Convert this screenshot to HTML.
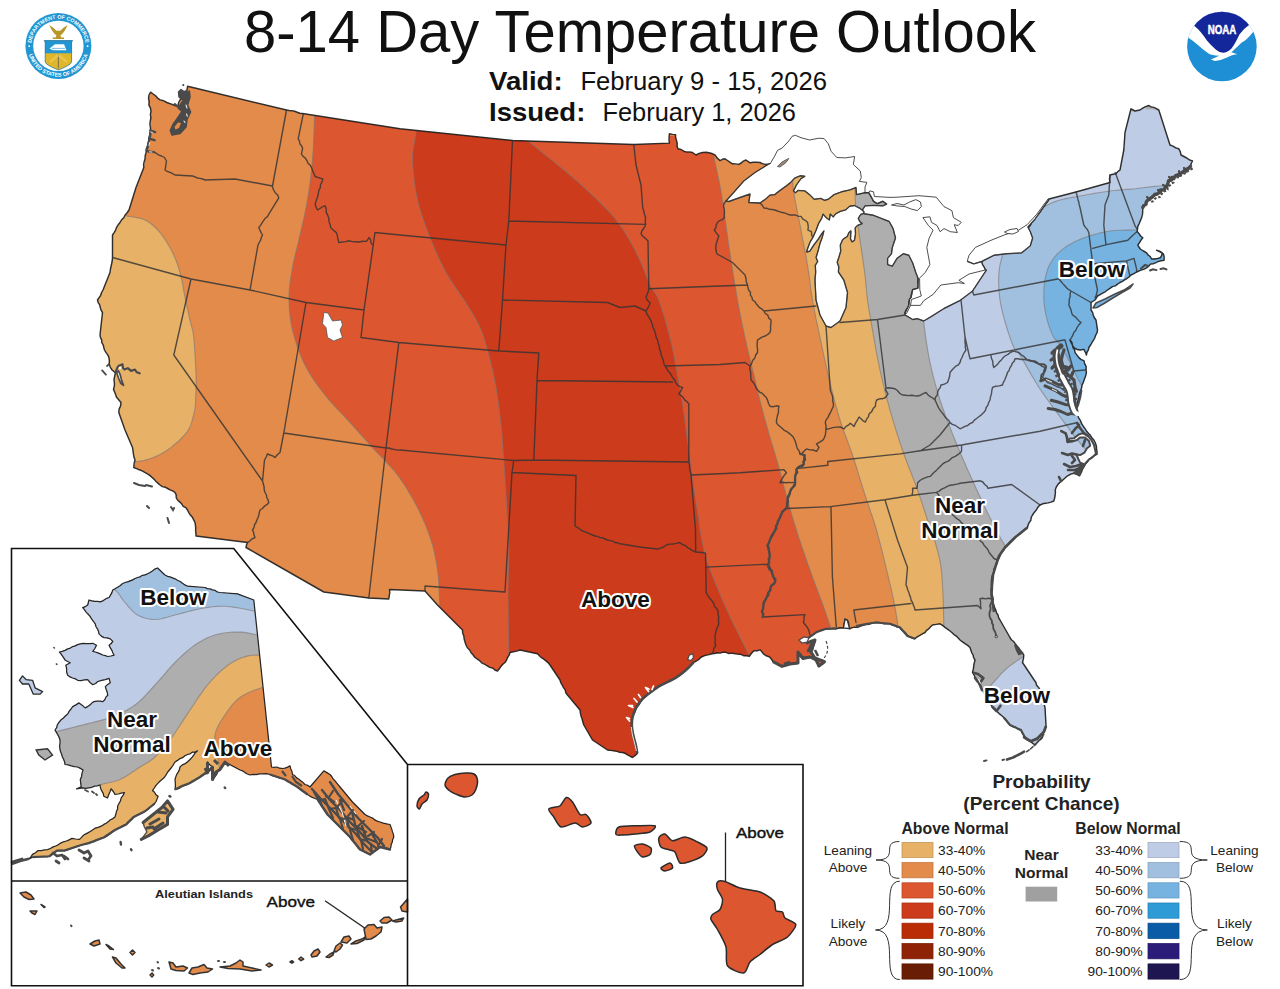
<!DOCTYPE html><html><head><meta charset="utf-8"><title>8-14 Day Temperature Outlook</title>
<style>html,body{margin:0;padding:0;background:#fff}svg{display:block}text{font-family:"Liberation Sans",sans-serif}.lab{font-weight:bold;font-size:22.5px;fill:#111;stroke:#fff;stroke-width:4px;stroke-linejoin:round;paint-order:stroke fill}.st{fill:none;stroke:#333333;stroke-opacity:0.82;stroke-width:1.4;stroke-linejoin:round;stroke-linecap:round}.ct{fill:none;stroke:rgba(125,120,118,0.62);stroke-width:1.15}.lk{fill:#fff;stroke:#3a3a3a;stroke-width:0.9;stroke-linejoin:round}.lg{font-size:13.6px;fill:#222}</style></head><body>
<svg width="1280" height="989" viewBox="0 0 1280 989">
<rect width="1280" height="989" fill="#fff"/>
<defs>
<clipPath id="us"><path d="M150.6,92.2 L160.1,99.9 L166.9,102.5 L174.7,105.5 L178,106 L180,100 L184,95 L187,90 L187.6,86.2 L286.5,110 L302.5,113.5 L400,128.8 L512.5,140.5 L633.8,144.5 L669.4,143.1 L669.4,133.8 L675.6,134.8 L678,148.8 L683.8,151.2 L692.5,152.5 L696,155 L702.5,152.5 L710,153 L715,155 L720,160.6 L725,158.8 L732.5,163.8 L738.8,164.4 L746,160 L750,162.8 L760,162.5 L765,164.4 L768.8,164 L800,160 L850,172 L860,188 L865,192.7 L868.8,192.7 L871.1,196.5 L873.5,201.2 L877.2,203.6 L882.9,201.2 L886.7,204 L890,208 L900,215 L915,250 L918.2,278.7 L918,288.2 L912.7,289.7 L911.1,297.6 L909.6,299.1 L908.8,305.4 L904.9,313.2 L920,312 L940,298 L955,290 L970,280 L985.5,270.1 L981.7,261.5 L985,252 L1005,245 L1020,240 L1029,227 L1035.5,217 L1042.5,208.2 L1049,199 L1076,192 L1110,182.5 L1110,175 L1116,173.8 L1120,170 L1123.8,150 L1125,132.5 L1131,108.8 L1135,111 L1140,110 L1148.8,105.5 L1158.8,110 L1170,145 L1178.8,148.8 L1181,155 L1192.5,161 L1190.5,166.3 L1184,171 L1177.9,175 L1171.7,177.5 L1168,183 L1165.4,187.6 L1159.1,192.6 L1153,196.5 L1147.8,200.1 L1142.8,207.6 L1141.6,217.7 L1137.8,226.4 L1137.2,231.5 L1142.8,237.7 L1137.8,245.2 L1140.3,249 L1146.6,252.8 L1151.6,259 L1160.4,257.8 L1162.3,252.8 L1156.6,250.3 L1163.5,254 L1164.1,260.3 L1157.9,261.6 L1150.3,264.1 L1146.6,267.8 L1140.3,270.3 L1136.6,272 L1131,275 L1120,282.5 L1107.5,290 L1097.5,296 L1095,300 L1091,302.5 L1091,310 L1096,320 L1097.5,330 L1095.8,335 L1092.7,341.3 L1088.9,347.5 L1086.4,355 L1085.8,353.2 L1083.9,349.4 L1080.2,350 L1074.5,348.2 L1070,340 L1075.1,352.6 L1078.9,357.6 L1083.9,360.7 L1086.1,366.3 L1086.4,372.6 L1084.5,378.9 L1082,385.2 L1080.2,391.4 L1078.9,397 L1076.4,408.2 L1076.4,412.9 L1080.2,420.1 L1085.2,428.9 L1090.2,435.1 L1093.9,440 L1096.4,446.3 L1097.1,454.2 L1093.3,456.4 L1088.9,459.5 L1085.2,463.9 L1082.6,468.9 L1079.5,475.8 L1073.9,473.3 L1067.6,475.8 L1062,480.8 L1056.3,487 L1053.8,501 L1040,505 L1032.5,515 L1027.5,527.5 L1015,537.5 L1005,547.5 L997.5,560 L992.5,575 L991,590 L993.8,605 L1000,620 L1010,637.5 L1020,650 L1023.8,655 L1022.5,662.5 L1032.5,677.5 L1040,690 L1045,707.5 L1046,725 L1042.5,737.5 L1035,745 L1025,737.5 L1021,730 L1010,725 L1003.8,717.5 L992.5,707.5 L981,687.5 L972.5,672.5 L973.8,665 L975,660 L970,647.5 L960,640 L950,631 L940,623.8 L932.5,625 L925,632.5 L915,638.8 L907.5,636 L900,627.5 L890,623.8 L875,622.5 L860,626.4 L849.7,628.7 L847.3,620.1 L845,619.3 L843.4,628 L836.3,628.7 L826.1,628.7 L816.7,631.9 L810.5,636.6 L805,639.7 L807.3,642.9 L815.2,639.7 L810.5,652.3 L815.2,658.5 L824.6,661.7 L818.3,666.4 L816.7,660.1 L810.5,657 L802.6,658.5 L797.9,652.3 L797.9,663.2 L790.1,664 L782.3,666.4 L772.9,661.7 L769.7,657 L763.4,653.8 L760.3,649.9 L754,650.7 L749.3,656.2 L735.2,653.8 L722.7,652.3 L711.7,653.8 L704.1,655.8 L693.6,662.3 L685.7,670.2 L675.2,678.1 L659.4,686 L650.2,692.6 L642.3,699.1 L635.8,708.3 L632.5,717.5 L631.8,725.4 L633.1,734.6 L635.8,745.1 L637.3,753.5 L632.5,757.5 L622.5,752.5 L607.5,750 L592.5,740 L583.8,725 L580,710 L567.5,695 L560,680 L550,665 L537.5,653.8 L520,650 L510,652.5 L505,662.5 L497.5,671 L487.5,666 L475,657.5 L466,645 L462.5,630 L450,617.5 L437.5,605 L425,591 L389.5,589.5 L388.8,599 L368.8,598 L323.8,592 L246,547.5 L247.5,542.5 L196,536 L195,522.5 L187.5,510 L177.5,500 L175,492.5 L160,485 L147.5,473.8 L133.8,467.5 L135,460 L132.5,447.5 L125,430 L118.8,412.5 L121,402.5 L116.4,397 L113.5,389.4 L114.5,384.2 L114,379.5 L115.4,372.8 L112.1,370 L109.2,363.8 L108.8,357.1 L104.5,350 L100,335 L102.5,312.5 L97.5,300 L103,290 L110,272.5 L112.5,257.5 L112.5,235 L120,222.5 L129,210 L136,187.5 L143.8,167.5 L145,159.2 L146.3,148.9 L148,143.7 L150.6,130 L150.2,121.4 L151,111.1 L148.9,105.1 L148.5,98.2Z"/><path d=""/></clipPath>
<clipPath id="ak"><path d="M157.5,568 L165,575 L175,578.8 L187.5,586.2 L205,587.5 L220,592.5 L237.5,593.8 L253.8,600 L271.5,767 L285,768.2 L290,765.8 L292.5,774.5 L305,784.5 L310,787 L323.8,770.8 L330,774.5 L340,787 L352.5,802 L365,814.5 L380,822 L390,824.5 L393.8,837 L390,849.5 L380,847 L370,854.5 L360,849.5 L350,837 L340,827 L327.5,814.5 L317.5,799.5 L307.5,794.5 L297.5,787 L285,779.5 L270,774.5 L262.5,773.8 L250,775 L240,770 L225,762 L220,769.5 L212.5,779.5 L212.5,767 L207.5,762 L207.5,772 L200,777 L187.5,784.5 L175,789.5 L175,779.5 L180,767 L190,759.5 L197.5,750.8 L187.5,754.5 L175,762 L169.4,770 L165.6,775.6 L158.1,783.1 L152.5,790.6 L158.1,796.2 L154.4,803.8 L145,811.2 L133.8,816.9 L126.2,824.4 L115,830 L103.8,837.5 L88.8,843.1 L81.2,845 L64.4,850.6 L56.9,850.6 L49.4,856.2 L32.5,857.2 L29,859 L32.5,854.4 L38.1,850.6 L47.5,849.7 L53.1,846.9 L60.6,843.1 L71.9,838.4 L79.4,839.4 L83.1,835.6 L92.5,830 L103.8,824.4 L115,816.9 L118.8,803.8 L124.4,792.5 L115,794.4 L111.2,788.8 L107.5,798 L103.8,796.2 L100,785 L88.8,787.8 L76.6,788.8 L81.2,786.9 L80.3,779.4 L83.1,770 L77.5,767 L65,764.5 L60,749.5 L60,740 L55,730 L58.8,722.5 L67.7,714 L72.7,706.6 L79,702.9 L85.2,707.9 L94,701.6 L102.8,701.6 L107.8,695.3 L105.3,686.6 L110.3,682.8 L109.1,678.4 L105.3,679.7 L97.8,681.5 L92.8,684.7 L87.7,679.7 L77.7,680.3 L67.7,675.3 L65.8,665.2 L70.2,662.7 L65.2,660.2 L59.5,652.1 L67.7,648.9 L80.2,643.9 L92.8,643.3 L96.5,645.2 L92.8,651.4 L100.3,653.9 L107.8,656.5 L114.1,655.2 L112.8,652.7 L109.1,645.2 L112.8,641.4 L110.3,638.9 L104,637.6 L99,633.9 L95.3,623.9 L87.7,613.8 L82.7,607.6 L87.7,605 L89,600 L100.3,601.9 L109.1,597.5 L112.8,590 L115,588.8 L125,582.5 L137.5,577.5 L150,572.5Z"/><path d="M143.1,822.5 L152.5,815 L161.9,807.5 L167.5,800.9 L173.1,809.4 L167.5,816.9 L167.5,824.4 L158.1,830 L148.8,835.6 L141.2,839.4 L146.9,831.9 L144.1,826.2Z"/></clipPath>
<clipPath id="akbox"><path d="M11.5,548.5 H233.75 L407.5,764.5 V881 H11.5Z"/></clipPath>
</defs>
<g clip-path="url(#us)">
<rect x="80" y="60" width="1140" height="720" fill="#E38B4B"/>
<path d="M126,216 L128.1,216.3 L131.1,216.7 L134.6,217.2 L138.3,217.9 L141.8,218.8 L145,220 L147.8,221.5 L150.4,223.3 L152.9,225.2 L155.3,227.5 L157.7,229.9 L160,232.5 L162.3,235.4 L164.5,238.6 L166.7,242 L168.8,245.6 L170.7,249.1 L172.5,252.5 L174.1,255.8 L175.5,259 L176.7,262.2 L177.9,265.5 L179,268.9 L180,272.5 L181,276.3 L181.9,280.4 L182.7,284.6 L183.4,288.8 L184.2,293 L185,297 L185.8,301 L186.7,305 L187.6,308.9 L188.4,312.8 L189.2,316.5 L190,320 L190.7,323 L191.4,325.5 L192,327.8 L192.7,330.4 L193.2,333.5 L193.8,337.5 L194.2,342.8 L194.7,349.2 L195.1,356.1 L195.5,363.1 L195.8,369.5 L196,375 L196.1,379.4 L196.2,383.1 L196.1,386.3 L196.1,389.2 L195.9,392 L195.8,395 L195.7,398 L195.6,400.8 L195.5,403.5 L195.3,406.2 L194.9,409 L194.3,412 L193.6,415.2 L192.7,418.5 L191.8,421.9 L190.6,425.4 L189,428.7 L187,432 L184.4,435.2 L181.3,438.5 L177.9,441.7 L174.3,444.8 L170.8,447.6 L167.5,450 L164.4,452.1 L161.4,453.8 L158.5,455.3 L155.6,456.6 L152.7,457.7 L150,458.8 L147.2,459.6 L144.3,460.4 L141.4,460.9 L138.8,461.4 L136.6,461.7 L135,462 L60,462 L60,216Z" fill="#E7B168"/>
<path d="M314.5,100 L314.5,101.4 L314.6,103.1 L314.6,105.2 L314.6,108 L314.6,111.5 L314.5,116 L314.3,121.8 L314.1,128.7 L313.8,136.5 L313.5,144.6 L313,152.6 L312.5,160 L311.9,167 L311.1,173.8 L310.3,180.6 L309.5,187.2 L308.5,193.7 L307.5,200 L306.4,206.2 L305.2,212.1 L303.9,218 L302.6,223.7 L301.3,229.4 L300,235 L298.7,240.6 L297.4,246.1 L296,251.6 L294.7,256.9 L293.5,262.3 L292.5,267.5 L291.6,272.6 L290.8,277.6 L290.1,282.5 L289.5,287.4 L289.1,292.4 L289,297.5 L289.1,302.7 L289.3,308.1 L289.8,313.4 L290.4,318.9 L291.3,324.4 L292.5,330 L294,335.7 L295.7,341.7 L297.7,347.7 L299.9,353.6 L302.4,359.4 L305,365 L307.8,370.3 L310.9,375.5 L314.2,380.5 L317.7,385.4 L321.3,390.2 L325,395 L328.9,399.8 L333.1,404.4 L337.3,409.1 L341.7,413.6 L345.9,418.1 L350,422.5 L353.9,426.8 L357.6,430.9 L361.2,435 L364.9,439.1 L368.6,443.2 L372.5,447.5 L376.6,451.9 L380.8,456.3 L385.2,460.8 L389.4,465.4 L393.6,470.1 L397.5,475 L401.2,480.1 L404.8,485.5 L408.2,490.9 L411.5,496.5 L414.6,502 L417.5,507.5 L420.2,512.9 L422.7,518.4 L425.1,523.9 L427.3,529.4 L429.2,534.7 L431,540 L432.5,545.1 L433.9,550.2 L435,555.2 L435.9,560.1 L436.8,565 L437.5,570 L438.1,574.9 L438.6,579.6 L438.9,584.4 L439.1,589.3 L439.3,594.4 L439.5,600 L439.7,606.6 L439.8,614.1 L439.9,621.9 L439.9,629.3 L440,635.5 L440,640 L440,800 L835,800 L835,640 L834.5,638.5 L833.8,636.5 L832.9,634.1 L832,631.4 L831,628.5 L830,625.6 L829,622.6 L827.9,619.4 L826.8,616.1 L825.6,612.6 L824.3,608.9 L823,605.2 L821.6,601.3 L820,597.3 L818.5,593.1 L816.8,588.8 L815.2,584.5 L813.6,580.2 L812,575.8 L810.4,571.3 L808.8,566.8 L807.2,562.2 L805.7,557.8 L804.2,553.5 L802.8,549.5 L801.5,545.7 L800.3,542 L799,538.2 L797.7,534.3 L796.4,530 L795,525.5 L793.6,520.8 L792.1,515.9 L790.6,510.8 L789.1,505.5 L787.5,500 L785.9,494.2 L784.3,488.2 L782.7,482 L781.1,475.6 L779.3,469.1 L777.5,462.5 L775.5,455.7 L773.4,448.6 L771.2,441.4 L769.1,434.2 L767,427 L765,420 L763.2,413.2 L761.5,406.6 L759.8,400 L758.2,393.4 L756.6,386.8 L755,380 L753.3,373 L751.6,365.8 L749.8,358.6 L748.1,351.4 L746.5,344.3 L745,337.5 L743.6,331.1 L742.3,325 L741.1,319 L739.9,313 L738.7,306.7 L737.5,300 L736.2,292.4 L734.8,284.1 L733.4,275.6 L732.1,267.3 L731,259.8 L730,253.6 L729.3,249.1 L728.8,245.9 L728.5,243.5 L728.2,241.4 L727.9,239.1 L727.5,236 L726.9,232.1 L726.3,227.9 L725.7,223.4 L725,218.8 L724.4,214.3 L723.8,210 L723.2,206 L722.6,202.1 L722,198.2 L721.4,194.4 L720.8,190.3 L720,186 L719.1,181.2 L717.9,175.9 L716.8,170.5 L715.6,165.2 L714.6,160.3 L713.8,156 L713.2,152.3 L712.8,149 L712.5,146.1 L712.3,143.6 L712.1,141.6 L712,140Z" fill="#DC5630"/>
<path d="M417,115 L416.9,116.8 L416.8,119.2 L416.7,122 L416.6,125.3 L416.3,128.8 L416,132.5 L415.5,136.4 L414.7,140.5 L413.9,144.8 L413.1,149.5 L412.6,154.6 L412.5,160 L412.8,166 L413.3,172.5 L414,179.4 L415,186.4 L416.1,193.3 L417.5,200 L419.1,206.4 L421,212.8 L423.1,219.1 L425.3,225.3 L427.6,231.4 L430,237.5 L432.4,243.5 L434.9,249.5 L437.5,255.4 L440.2,261.3 L443.1,267 L446,272.5 L449.2,277.9 L452.6,283.2 L456.1,288.4 L459.6,293.4 L463,298.3 L466,303 L468.7,307.4 L471.3,311.5 L473.7,315.4 L475.9,319.3 L478,323.3 L480,327.5 L481.8,331.9 L483.4,336.3 L484.8,340.8 L486.1,345.4 L487.4,350.1 L488.8,355 L490.1,360.1 L491.4,365.3 L492.6,370.6 L493.8,376.1 L494.9,381.7 L496,387.5 L497,393.5 L497.9,399.7 L498.8,406.1 L499.6,412.5 L500.3,418.8 L501,425 L501.6,431 L502.1,436.9 L502.5,442.7 L503,448.4 L503.3,454.2 L503.8,460 L504.1,465.6 L504.5,471 L504.9,476.4 L505.2,482.1 L505.6,488.2 L506,495 L506.5,502.8 L507,511.4 L507.6,520.5 L508.1,529.7 L508.5,538.7 L508.8,547 L508.8,554.5 L508.7,561.4 L508.5,568 L508.3,574.7 L508.1,582 L508,590 L508,599.1 L508.2,609.1 L508.3,619.6 L508.5,630.1 L508.6,640.4 L508.8,650 L508.8,659.5 L508.9,669.3 L508.9,678.8 L509,687.4 L509,694.7 L509,700 L509,800 L756,800 L756,668 L755.3,666.7 L754.3,665 L753.2,662.9 L751.9,660.5 L750.5,657.8 L749,655 L747.4,651.9 L745.7,648.4 L743.8,644.8 L741.9,640.9 L739.9,636.9 L738,633 L736,629 L734,624.9 L732,620.8 L730,616.5 L728,612.3 L726,608 L724.1,603.7 L722.2,599.3 L720.3,594.9 L718.5,590.6 L716.7,586.2 L715,582 L713.3,577.9 L711.7,574 L710.2,570.1 L708.7,566.2 L707.3,562.2 L706,558 L704.8,553.4 L703.6,548.3 L702.5,543.1 L701.5,538.1 L700.7,533.7 L700,530 L699.6,527.6 L699.4,526.2 L699.3,525.3 L699.3,524.3 L699.1,522.8 L698.8,520 L698.1,515.9 L697.4,511 L696.5,505.5 L695.6,499.5 L694.6,493.5 L693.8,487.5 L692.9,481.5 L692.1,475.4 L691.2,469.1 L690.4,462.7 L689.6,456.3 L688.8,450 L687.9,443.8 L687.1,437.5 L686.3,431.2 L685.5,425 L684.7,418.8 L683.8,412.5 L682.8,406.2 L681.8,400 L680.8,393.8 L679.7,387.5 L678.6,381.3 L677.5,375 L676.4,368.8 L675.2,362.5 L674.1,356.2 L672.8,350 L671.5,343.8 L670,337.5 L668.3,331 L666.4,324.2 L664.5,317.3 L662.5,310.8 L660.5,304.9 L658.8,300 L657.2,296.4 L655.8,293.9 L654.5,292 L653.1,290.3 L651.6,288.1 L650,285 L648.2,280.9 L646.3,276.1 L644.3,270.9 L642.2,265.6 L639.9,260.2 L637.5,255 L634.9,249.9 L632.1,244.7 L629.2,239.5 L626.2,234.4 L623.1,229.6 L620,225 L616.9,220.9 L613.9,217.1 L610.8,213.6 L607.5,210.1 L603.9,206.5 L600,202.5 L595.7,198.3 L591.1,193.9 L586.2,189.4 L581.1,184.7 L575.7,179.9 L570,175 L563.6,169.7 L556.5,163.9 L549.1,157.9 L541.9,152.2 L535.3,146.9 L530,142.5 L525.9,138.9 L522.6,135.8 L520,133.2 L518,131.1 L516.3,129.4 L515,128Z" fill="#CB3B1C"/>
<path d="M792.5,175 L792.6,176.7 L792.6,179 L792.7,181.7 L792.9,184.9 L793.2,188.5 L793.8,192.5 L794.5,197 L795.4,201.9 L796.5,207.3 L797.6,213.1 L798.8,219 L800,225 L801.2,231.3 L802.5,238 L803.8,244.8 L805.1,251.8 L806.4,258.5 L807.5,265 L808.4,271.1 L809.3,276.9 L810,282.7 L810.7,288.3 L811.6,294.1 L812.5,300 L813.6,306 L814.7,312 L815.9,318.1 L817.2,324.4 L818.6,330.8 L820,337.5 L821.5,344.7 L823.1,352.2 L824.8,360 L826.6,367.8 L828.3,375.3 L830,382.5 L831.6,389.2 L833.2,395.6 L834.8,401.9 L836.5,408 L838.2,414 L840,420 L841.9,425.9 L844,431.7 L846.1,437.3 L848.2,443.1 L850.4,448.9 L852.5,455 L854.6,461.5 L856.8,468.3 L858.9,475.3 L861,482.2 L863.1,488.9 L865,495 L866.9,500.7 L868.7,506 L870.4,511.1 L872.1,516 L873.6,520.6 L875,525 L876.2,529.1 L877.3,533 L878.3,536.6 L879.2,540.1 L880.1,543.5 L881,547 L881.9,550.4 L882.7,553.7 L883.5,556.9 L884.3,560.2 L885.1,563.7 L886,567.5 L887,571.7 L888.1,576.1 L889.2,580.8 L890.4,585.6 L891.5,590.3 L892.5,595 L893.5,599.6 L894.4,604.4 L895.3,609.1 L896.1,613.7 L896.9,618.2 L897.5,622.5 L898,626.8 L898.3,631.2 L898.6,635.5 L898.7,639.4 L898.9,642.6 L899,645 L899,800 L1300,800 L1300,60 L792,60Z" fill="#E7B168"/>
<path d="M855,175 L855,176.4 L855,178.3 L854.9,180.5 L854.9,183.1 L854.9,185.9 L855,188.8 L855.1,191.8 L855.1,195 L855.2,198.4 L855.4,202 L855.6,205.9 L856,210 L856.5,214.4 L857.1,219.2 L857.8,224.1 L858.5,229.3 L859.2,234.6 L860,240 L860.8,245.7 L861.7,251.7 L862.6,257.8 L863.5,263.9 L864.3,269.7 L865,275 L865.5,279.7 L865.9,283.9 L866.2,287.8 L866.6,291.7 L867,295.7 L867.5,300 L868.2,304.6 L868.9,309.3 L869.7,314.1 L870.6,319.1 L871.5,324.4 L872.5,330 L873.6,336.1 L874.7,342.6 L875.9,349.4 L877.2,356.3 L878.6,363.2 L880,370 L881.5,376.7 L883.1,383.3 L884.7,390 L886.4,396.7 L888.2,403.3 L890,410 L891.9,416.7 L893.9,423.3 L895.9,430 L898.1,436.7 L900.2,443.3 L902.5,450 L904.9,456.8 L907.5,463.7 L910.2,470.6 L912.8,477.4 L915.3,483.9 L917.5,490 L919.5,495.6 L921.3,500.9 L922.9,505.9 L924.5,510.7 L926,515.4 L927.5,520 L929,524.5 L930.6,528.8 L932.1,533 L933.5,537 L934.8,541 L936,545 L937.1,548.8 L938,552.5 L938.9,556.1 L939.7,559.7 L940.4,563.5 L941,567.5 L941.5,571.8 L941.9,576.2 L942.3,580.8 L942.5,585.5 L942.8,590.2 L943,595 L943.2,600 L943.4,605.2 L943.5,610.5 L943.6,615.6 L943.7,620.5 L943.8,625 L943.8,629.1 L943.9,633.1 L943.9,636.9 L944,640.2 L944,642.9 L944,645 L944,800 L1300,800 L1300,60 L855,60Z" fill="#AEAEAE"/>
<path d="M918,230 L918.2,235.5 L918.5,243.2 L918.8,252.3 L919.1,262 L919.5,271.5 L920,280 L920.5,287.5 L921,294.8 L921.6,301.9 L922.2,308.8 L923,315.6 L923.8,322.5 L924.6,329.3 L925.5,336.1 L926.5,342.8 L927.5,349.4 L928.7,356 L930,362.5 L931.4,368.9 L932.9,375.1 L934.5,381.2 L936.2,387.4 L938,393.6 L940,400 L942.2,406.6 L944.6,413.3 L947.2,420.2 L949.8,426.9 L952.4,433.6 L955,440 L957.5,446.2 L960,452.1 L962.5,458 L965,463.7 L967.5,469.4 L970,475 L972.5,480.6 L975.1,486.3 L977.7,491.9 L980.2,497.3 L982.6,502.5 L985,507.5 L987.3,512.2 L989.5,516.8 L991.7,521.1 L993.7,525.2 L995.7,529 L997.5,532.5 L999.1,535.5 L1000.6,538.2 L1002,540.5 L1003.3,542.7 L1004.6,544.8 L1006,547 L1007.6,549.4 L1009.3,551.9 L1011,554.4 L1012.6,556.7 L1014,558.6 L1015,560 L1100,575 L1300,575 L1300,60 L918,60Z" fill="#BFCCE5"/>
<path d="M1200,184 L1195.5,184.2 L1189.1,184.5 L1181.6,184.8 L1173.7,185.2 L1166.3,185.6 L1160,186 L1155,186.4 L1150.6,186.9 L1146.6,187.4 L1142.8,187.8 L1139,188.3 L1135,188.8 L1130.9,189.1 L1126.9,189.4 L1122.8,189.7 L1118.7,190.1 L1114.5,190.5 L1110,191 L1105.2,191.7 L1100,192.5 L1094.7,193.4 L1089.4,194.3 L1084.5,195.2 L1080,196 L1076,196.7 L1072.3,197.4 L1068.9,198 L1065.7,198.6 L1062.8,199.3 L1060,200 L1057.4,200.8 L1055.1,201.6 L1053,202.4 L1051,203.3 L1049.2,204.2 L1047.5,205 L1046.1,205.7 L1045,206.3 L1044.1,206.9 L1043.1,207.6 L1041.8,208.6 L1040,210 L1037.5,211.9 L1034.6,214.3 L1031.3,216.9 L1028,219.6 L1024.8,222.4 L1022,225 L1019.5,227.5 L1017.1,230 L1014.8,232.5 L1012.7,235 L1010.7,237.5 L1009,240 L1007.5,242.4 L1006.2,244.8 L1005.2,247.2 L1004.2,249.6 L1003.3,252.2 L1002.5,255 L1001.7,258 L1000.9,261.1 L1000.1,264.4 L999.5,267.8 L999.1,271.3 L998.8,275 L998.6,278.9 L998.6,283 L998.8,287.2 L999,291.5 L999.5,295.8 L1000,300 L1000.7,304.2 L1001.6,308.4 L1002.6,312.7 L1003.7,316.9 L1004.8,321 L1006,325 L1007.2,329 L1008.5,333.1 L1009.9,337.1 L1011.2,340.8 L1012.5,344.2 L1013.8,347 L1014.7,348.9 L1015.5,349.9 L1016.3,350.5 L1017.1,351.2 L1018.3,352.6 L1020,355 L1022.3,358.8 L1025,363.6 L1028,368.9 L1031.2,374.6 L1034.5,380 L1037.5,385 L1040.4,389.5 L1043.4,393.9 L1046.4,398.1 L1049.4,402.2 L1052.2,406.2 L1055,410 L1057.7,413.7 L1060.5,417.4 L1063.1,420.9 L1065.6,424.3 L1068,427.3 L1070,430 L1071.5,432.1 L1072.5,433.5 L1073.3,434.7 L1074.2,435.9 L1075.5,437.6 L1077.5,440 L1080.6,443.6 L1084.7,448.1 L1089.2,453.1 L1093.6,458 L1097.4,462.1 L1100,465 L1300,465 L1300,184Z" fill="#A1C0DF"/>
<path d="M1170,229 L1166.1,229.1 L1160.6,229.3 L1154.1,229.4 L1147.2,229.6 L1140.7,229.8 L1135,230 L1130.3,230.1 L1125.9,230.1 L1121.9,230.2 L1118,230.3 L1114.1,230.5 L1110,231 L1105.8,231.7 L1101.5,232.6 L1097.2,233.7 L1093,234.9 L1088.9,236.2 L1085,237.5 L1081.3,238.9 L1077.7,240.5 L1074.2,242.1 L1070.9,243.9 L1067.8,245.6 L1065,247.5 L1062.4,249.4 L1060.1,251.4 L1057.9,253.4 L1055.9,255.6 L1054.1,257.7 L1052.5,260 L1051,262.3 L1049.7,264.6 L1048.6,267 L1047.6,269.5 L1046.8,272.2 L1046,275 L1045.3,278 L1044.8,281.3 L1044.3,284.7 L1044,288.1 L1043.8,291.6 L1043.8,295 L1043.8,298.3 L1044,301.7 L1044.3,305 L1044.8,308.3 L1045.3,311.7 L1046,315 L1046.8,318.4 L1047.8,322 L1048.9,325.6 L1050.1,329.1 L1051.3,332.2 L1052.5,335 L1053.7,337.2 L1054.8,338.8 L1056,340.2 L1057.3,341.5 L1058.6,343 L1060,345 L1061.5,347.5 L1063.1,350.2 L1064.8,353.1 L1066.6,356.2 L1068.3,359.4 L1070,362.5 L1071.6,365.7 L1073.1,368.9 L1074.7,372.2 L1076.3,375.6 L1078,379 L1080,382.5 L1082.4,386.4 L1085.2,390.6 L1088.1,395 L1090.9,399.1 L1093.3,402.5 L1095,405 L1300,405 L1300,229Z" fill="#76B3E0"/>
<path d="M975,700 L976.8,698.4 L979.2,696.1 L982.1,693.4 L985.2,690.6 L988.3,687.7 L991,685 L993.4,682.5 L995.8,679.9 L998.1,677.3 L1000.3,674.7 L1002.6,672.3 L1005,670 L1007.4,667.9 L1009.9,665.9 L1012.4,664 L1015,662.2 L1017.5,660.4 L1020,658.8 L1022.7,657 L1025.6,655.3 L1028.4,653.7 L1031.1,652.2 L1033.4,650.9 L1035,650 L1100,650 L1100,800 L975,800Z" fill="#BFCCE5"/>
<path d="M1146,103 L1160,103 L1160,111 L1152,109.3 L1146,109.5Z" fill="#AEAEAE"/>
<path d="M1130,107 h6 v4.5 h-6Z" fill="#AEAEAE"/>
<path class="ct" d="M126,216 L128.1,216.3 L131.1,216.7 L134.6,217.2 L138.3,217.9 L141.8,218.8 L145,220 L147.8,221.5 L150.4,223.3 L152.9,225.2 L155.3,227.5 L157.7,229.9 L160,232.5 L162.3,235.4 L164.5,238.6 L166.7,242 L168.8,245.6 L170.7,249.1 L172.5,252.5 L174.1,255.8 L175.5,259 L176.7,262.2 L177.9,265.5 L179,268.9 L180,272.5 L181,276.3 L181.9,280.4 L182.7,284.6 L183.4,288.8 L184.2,293 L185,297 L185.8,301 L186.7,305 L187.6,308.9 L188.4,312.8 L189.2,316.5 L190,320 L190.7,323 L191.4,325.5 L192,327.8 L192.7,330.4 L193.2,333.5 L193.8,337.5 L194.2,342.8 L194.7,349.2 L195.1,356.1 L195.5,363.1 L195.8,369.5 L196,375 L196.1,379.4 L196.2,383.1 L196.1,386.3 L196.1,389.2 L195.9,392 L195.8,395 L195.7,398 L195.6,400.8 L195.5,403.5 L195.3,406.2 L194.9,409 L194.3,412 L193.6,415.2 L192.7,418.5 L191.8,421.9 L190.6,425.4 L189,428.7 L187,432 L184.4,435.2 L181.3,438.5 L177.9,441.7 L174.3,444.8 L170.8,447.6 L167.5,450 L164.4,452.1 L161.4,453.8 L158.5,455.3 L155.6,456.6 L152.7,457.7 L150,458.8 L147.2,459.6 L144.3,460.4 L141.4,460.9 L138.8,461.4 L136.6,461.7 L135,462"/>
<path class="ct" d="M314.5,100 L314.5,101.4 L314.6,103.1 L314.6,105.2 L314.6,108 L314.6,111.5 L314.5,116 L314.3,121.8 L314.1,128.7 L313.8,136.5 L313.5,144.6 L313,152.6 L312.5,160 L311.9,167 L311.1,173.8 L310.3,180.6 L309.5,187.2 L308.5,193.7 L307.5,200 L306.4,206.2 L305.2,212.1 L303.9,218 L302.6,223.7 L301.3,229.4 L300,235 L298.7,240.6 L297.4,246.1 L296,251.6 L294.7,256.9 L293.5,262.3 L292.5,267.5 L291.6,272.6 L290.8,277.6 L290.1,282.5 L289.5,287.4 L289.1,292.4 L289,297.5 L289.1,302.7 L289.3,308.1 L289.8,313.4 L290.4,318.9 L291.3,324.4 L292.5,330 L294,335.7 L295.7,341.7 L297.7,347.7 L299.9,353.6 L302.4,359.4 L305,365 L307.8,370.3 L310.9,375.5 L314.2,380.5 L317.7,385.4 L321.3,390.2 L325,395 L328.9,399.8 L333.1,404.4 L337.3,409.1 L341.7,413.6 L345.9,418.1 L350,422.5 L353.9,426.8 L357.6,430.9 L361.2,435 L364.9,439.1 L368.6,443.2 L372.5,447.5 L376.6,451.9 L380.8,456.3 L385.2,460.8 L389.4,465.4 L393.6,470.1 L397.5,475 L401.2,480.1 L404.8,485.5 L408.2,490.9 L411.5,496.5 L414.6,502 L417.5,507.5 L420.2,512.9 L422.7,518.4 L425.1,523.9 L427.3,529.4 L429.2,534.7 L431,540 L432.5,545.1 L433.9,550.2 L435,555.2 L435.9,560.1 L436.8,565 L437.5,570 L438.1,574.9 L438.6,579.6 L438.9,584.4 L439.1,589.3 L439.3,594.4 L439.5,600 L439.7,606.6 L439.8,614.1 L439.9,621.9 L439.9,629.3 L440,635.5 L440,640"/>
<path class="ct" d="M712,140 L712.1,141.6 L712.3,143.6 L712.5,146.1 L712.8,149 L713.2,152.3 L713.8,156 L714.6,160.3 L715.6,165.2 L716.8,170.5 L717.9,175.9 L719.1,181.2 L720,186 L720.8,190.3 L721.4,194.4 L722,198.2 L722.6,202.1 L723.2,206 L723.8,210 L724.4,214.3 L725,218.8 L725.7,223.4 L726.3,227.9 L726.9,232.1 L727.5,236 L727.9,239.1 L728.2,241.4 L728.5,243.5 L728.8,245.9 L729.3,249.1 L730,253.6 L731,259.8 L732.1,267.3 L733.4,275.6 L734.8,284.1 L736.2,292.4 L737.5,300 L738.7,306.7 L739.9,313 L741.1,319 L742.3,325 L743.6,331.1 L745,337.5 L746.5,344.3 L748.1,351.4 L749.8,358.6 L751.6,365.8 L753.3,373 L755,380 L756.6,386.8 L758.2,393.4 L759.8,400 L761.5,406.6 L763.2,413.2 L765,420 L767,427 L769.1,434.2 L771.2,441.4 L773.4,448.6 L775.5,455.7 L777.5,462.5 L779.3,469.1 L781.1,475.6 L782.7,482 L784.3,488.2 L785.9,494.2 L787.5,500 L789.1,505.5 L790.6,510.8 L792.1,515.9 L793.6,520.8 L795,525.5 L796.4,530 L797.7,534.3 L799,538.2 L800.3,542 L801.5,545.7 L802.8,549.5 L804.2,553.5 L805.7,557.8 L807.2,562.2 L808.8,566.8 L810.4,571.3 L812,575.8 L813.6,580.2 L815.2,584.5 L816.8,588.8 L818.5,593.1 L820,597.3 L821.6,601.3 L823,605.2 L824.3,608.9 L825.6,612.6 L826.8,616.1 L827.9,619.4 L829,622.6 L830,625.6 L831,628.5 L832,631.4 L832.9,634.1 L833.8,636.5 L834.5,638.5 L835,640"/>
<path class="ct" d="M417,115 L416.9,116.8 L416.8,119.2 L416.7,122 L416.6,125.3 L416.3,128.8 L416,132.5 L415.5,136.4 L414.7,140.5 L413.9,144.8 L413.1,149.5 L412.6,154.6 L412.5,160 L412.8,166 L413.3,172.5 L414,179.4 L415,186.4 L416.1,193.3 L417.5,200 L419.1,206.4 L421,212.8 L423.1,219.1 L425.3,225.3 L427.6,231.4 L430,237.5 L432.4,243.5 L434.9,249.5 L437.5,255.4 L440.2,261.3 L443.1,267 L446,272.5 L449.2,277.9 L452.6,283.2 L456.1,288.4 L459.6,293.4 L463,298.3 L466,303 L468.7,307.4 L471.3,311.5 L473.7,315.4 L475.9,319.3 L478,323.3 L480,327.5 L481.8,331.9 L483.4,336.3 L484.8,340.8 L486.1,345.4 L487.4,350.1 L488.8,355 L490.1,360.1 L491.4,365.3 L492.6,370.6 L493.8,376.1 L494.9,381.7 L496,387.5 L497,393.5 L497.9,399.7 L498.8,406.1 L499.6,412.5 L500.3,418.8 L501,425 L501.6,431 L502.1,436.9 L502.5,442.7 L503,448.4 L503.3,454.2 L503.8,460 L504.1,465.6 L504.5,471 L504.9,476.4 L505.2,482.1 L505.6,488.2 L506,495 L506.5,502.8 L507,511.4 L507.6,520.5 L508.1,529.7 L508.5,538.7 L508.8,547 L508.8,554.5 L508.7,561.4 L508.5,568 L508.3,574.7 L508.1,582 L508,590 L508,599.1 L508.2,609.1 L508.3,619.6 L508.5,630.1 L508.6,640.4 L508.8,650 L508.8,659.5 L508.9,669.3 L508.9,678.8 L509,687.4 L509,694.7 L509,700"/>
<path class="ct" d="M515,128 L516.3,129.4 L518,131.1 L520,133.2 L522.6,135.8 L525.9,138.9 L530,142.5 L535.3,146.9 L541.9,152.2 L549.1,157.9 L556.5,163.9 L563.6,169.7 L570,175 L575.7,179.9 L581.1,184.7 L586.2,189.4 L591.1,193.9 L595.7,198.3 L600,202.5 L603.9,206.5 L607.5,210.1 L610.8,213.6 L613.9,217.1 L616.9,220.9 L620,225 L623.1,229.6 L626.2,234.4 L629.2,239.5 L632.1,244.7 L634.9,249.9 L637.5,255 L639.9,260.2 L642.2,265.6 L644.3,270.9 L646.3,276.1 L648.2,280.9 L650,285 L651.6,288.1 L653.1,290.3 L654.5,292 L655.8,293.9 L657.2,296.4 L658.8,300 L660.5,304.9 L662.5,310.8 L664.5,317.3 L666.4,324.2 L668.3,331 L670,337.5 L671.5,343.8 L672.8,350 L674.1,356.2 L675.2,362.5 L676.4,368.8 L677.5,375 L678.6,381.3 L679.7,387.5 L680.8,393.8 L681.8,400 L682.8,406.2 L683.8,412.5 L684.7,418.8 L685.5,425 L686.3,431.2 L687.1,437.5 L687.9,443.8 L688.8,450 L689.6,456.3 L690.4,462.7 L691.2,469.1 L692.1,475.4 L692.9,481.5 L693.8,487.5 L694.6,493.5 L695.6,499.5 L696.5,505.5 L697.4,511 L698.1,515.9 L698.8,520 L699.1,522.8 L699.3,524.3 L699.3,525.3 L699.4,526.2 L699.6,527.6 L700,530 L700.7,533.7 L701.5,538.1 L702.5,543.1 L703.6,548.3 L704.8,553.4 L706,558 L707.3,562.2 L708.7,566.2 L710.2,570.1 L711.7,574 L713.3,577.9 L715,582 L716.7,586.2 L718.5,590.6 L720.3,594.9 L722.2,599.3 L724.1,603.7 L726,608 L728,612.3 L730,616.5 L732,620.8 L734,624.9 L736,629 L738,633 L739.9,636.9 L741.9,640.9 L743.8,644.8 L745.7,648.4 L747.4,651.9 L749,655 L750.5,657.8 L751.9,660.5 L753.2,662.9 L754.3,665 L755.3,666.7 L756,668"/>
<path class="ct" d="M792.5,175 L792.6,176.7 L792.6,179 L792.7,181.7 L792.9,184.9 L793.2,188.5 L793.8,192.5 L794.5,197 L795.4,201.9 L796.5,207.3 L797.6,213.1 L798.8,219 L800,225 L801.2,231.3 L802.5,238 L803.8,244.8 L805.1,251.8 L806.4,258.5 L807.5,265 L808.4,271.1 L809.3,276.9 L810,282.7 L810.7,288.3 L811.6,294.1 L812.5,300 L813.6,306 L814.7,312 L815.9,318.1 L817.2,324.4 L818.6,330.8 L820,337.5 L821.5,344.7 L823.1,352.2 L824.8,360 L826.6,367.8 L828.3,375.3 L830,382.5 L831.6,389.2 L833.2,395.6 L834.8,401.9 L836.5,408 L838.2,414 L840,420 L841.9,425.9 L844,431.7 L846.1,437.3 L848.2,443.1 L850.4,448.9 L852.5,455 L854.6,461.5 L856.8,468.3 L858.9,475.3 L861,482.2 L863.1,488.9 L865,495 L866.9,500.7 L868.7,506 L870.4,511.1 L872.1,516 L873.6,520.6 L875,525 L876.2,529.1 L877.3,533 L878.3,536.6 L879.2,540.1 L880.1,543.5 L881,547 L881.9,550.4 L882.7,553.7 L883.5,556.9 L884.3,560.2 L885.1,563.7 L886,567.5 L887,571.7 L888.1,576.1 L889.2,580.8 L890.4,585.6 L891.5,590.3 L892.5,595 L893.5,599.6 L894.4,604.4 L895.3,609.1 L896.1,613.7 L896.9,618.2 L897.5,622.5 L898,626.8 L898.3,631.2 L898.6,635.5 L898.7,639.4 L898.9,642.6 L899,645"/>
<path class="ct" d="M855,175 L855,176.4 L855,178.3 L854.9,180.5 L854.9,183.1 L854.9,185.9 L855,188.8 L855.1,191.8 L855.1,195 L855.2,198.4 L855.4,202 L855.6,205.9 L856,210 L856.5,214.4 L857.1,219.2 L857.8,224.1 L858.5,229.3 L859.2,234.6 L860,240 L860.8,245.7 L861.7,251.7 L862.6,257.8 L863.5,263.9 L864.3,269.7 L865,275 L865.5,279.7 L865.9,283.9 L866.2,287.8 L866.6,291.7 L867,295.7 L867.5,300 L868.2,304.6 L868.9,309.3 L869.7,314.1 L870.6,319.1 L871.5,324.4 L872.5,330 L873.6,336.1 L874.7,342.6 L875.9,349.4 L877.2,356.3 L878.6,363.2 L880,370 L881.5,376.7 L883.1,383.3 L884.7,390 L886.4,396.7 L888.2,403.3 L890,410 L891.9,416.7 L893.9,423.3 L895.9,430 L898.1,436.7 L900.2,443.3 L902.5,450 L904.9,456.8 L907.5,463.7 L910.2,470.6 L912.8,477.4 L915.3,483.9 L917.5,490 L919.5,495.6 L921.3,500.9 L922.9,505.9 L924.5,510.7 L926,515.4 L927.5,520 L929,524.5 L930.6,528.8 L932.1,533 L933.5,537 L934.8,541 L936,545 L937.1,548.8 L938,552.5 L938.9,556.1 L939.7,559.7 L940.4,563.5 L941,567.5 L941.5,571.8 L941.9,576.2 L942.3,580.8 L942.5,585.5 L942.8,590.2 L943,595 L943.2,600 L943.4,605.2 L943.5,610.5 L943.6,615.6 L943.7,620.5 L943.8,625 L943.8,629.1 L943.9,633.1 L943.9,636.9 L944,640.2 L944,642.9 L944,645"/>
<path class="ct" d="M918,230 L918.2,235.5 L918.5,243.2 L918.8,252.3 L919.1,262 L919.5,271.5 L920,280 L920.5,287.5 L921,294.8 L921.6,301.9 L922.2,308.8 L923,315.6 L923.8,322.5 L924.6,329.3 L925.5,336.1 L926.5,342.8 L927.5,349.4 L928.7,356 L930,362.5 L931.4,368.9 L932.9,375.1 L934.5,381.2 L936.2,387.4 L938,393.6 L940,400 L942.2,406.6 L944.6,413.3 L947.2,420.2 L949.8,426.9 L952.4,433.6 L955,440 L957.5,446.2 L960,452.1 L962.5,458 L965,463.7 L967.5,469.4 L970,475 L972.5,480.6 L975.1,486.3 L977.7,491.9 L980.2,497.3 L982.6,502.5 L985,507.5 L987.3,512.2 L989.5,516.8 L991.7,521.1 L993.7,525.2 L995.7,529 L997.5,532.5 L999.1,535.5 L1000.6,538.2 L1002,540.5 L1003.3,542.7 L1004.6,544.8 L1006,547 L1007.6,549.4 L1009.3,551.9 L1011,554.4 L1012.6,556.7 L1014,558.6 L1015,560"/>
<path class="ct" d="M1200,184 L1195.5,184.2 L1189.1,184.5 L1181.6,184.8 L1173.7,185.2 L1166.3,185.6 L1160,186 L1155,186.4 L1150.6,186.9 L1146.6,187.4 L1142.8,187.8 L1139,188.3 L1135,188.8 L1130.9,189.1 L1126.9,189.4 L1122.8,189.7 L1118.7,190.1 L1114.5,190.5 L1110,191 L1105.2,191.7 L1100,192.5 L1094.7,193.4 L1089.4,194.3 L1084.5,195.2 L1080,196 L1076,196.7 L1072.3,197.4 L1068.9,198 L1065.7,198.6 L1062.8,199.3 L1060,200 L1057.4,200.8 L1055.1,201.6 L1053,202.4 L1051,203.3 L1049.2,204.2 L1047.5,205 L1046.1,205.7 L1045,206.3 L1044.1,206.9 L1043.1,207.6 L1041.8,208.6 L1040,210 L1037.5,211.9 L1034.6,214.3 L1031.3,216.9 L1028,219.6 L1024.8,222.4 L1022,225 L1019.5,227.5 L1017.1,230 L1014.8,232.5 L1012.7,235 L1010.7,237.5 L1009,240 L1007.5,242.4 L1006.2,244.8 L1005.2,247.2 L1004.2,249.6 L1003.3,252.2 L1002.5,255 L1001.7,258 L1000.9,261.1 L1000.1,264.4 L999.5,267.8 L999.1,271.3 L998.8,275 L998.6,278.9 L998.6,283 L998.8,287.2 L999,291.5 L999.5,295.8 L1000,300 L1000.7,304.2 L1001.6,308.4 L1002.6,312.7 L1003.7,316.9 L1004.8,321 L1006,325 L1007.2,329 L1008.5,333.1 L1009.9,337.1 L1011.2,340.8 L1012.5,344.2 L1013.8,347 L1014.7,348.9 L1015.5,349.9 L1016.3,350.5 L1017.1,351.2 L1018.3,352.6 L1020,355 L1022.3,358.8 L1025,363.6 L1028,368.9 L1031.2,374.6 L1034.5,380 L1037.5,385 L1040.4,389.5 L1043.4,393.9 L1046.4,398.1 L1049.4,402.2 L1052.2,406.2 L1055,410 L1057.7,413.7 L1060.5,417.4 L1063.1,420.9 L1065.6,424.3 L1068,427.3 L1070,430 L1071.5,432.1 L1072.5,433.5 L1073.3,434.7 L1074.2,435.9 L1075.5,437.6 L1077.5,440 L1080.6,443.6 L1084.7,448.1 L1089.2,453.1 L1093.6,458 L1097.4,462.1 L1100,465"/>
<path class="ct" d="M1170,229 L1166.1,229.1 L1160.6,229.3 L1154.1,229.4 L1147.2,229.6 L1140.7,229.8 L1135,230 L1130.3,230.1 L1125.9,230.1 L1121.9,230.2 L1118,230.3 L1114.1,230.5 L1110,231 L1105.8,231.7 L1101.5,232.6 L1097.2,233.7 L1093,234.9 L1088.9,236.2 L1085,237.5 L1081.3,238.9 L1077.7,240.5 L1074.2,242.1 L1070.9,243.9 L1067.8,245.6 L1065,247.5 L1062.4,249.4 L1060.1,251.4 L1057.9,253.4 L1055.9,255.6 L1054.1,257.7 L1052.5,260 L1051,262.3 L1049.7,264.6 L1048.6,267 L1047.6,269.5 L1046.8,272.2 L1046,275 L1045.3,278 L1044.8,281.3 L1044.3,284.7 L1044,288.1 L1043.8,291.6 L1043.8,295 L1043.8,298.3 L1044,301.7 L1044.3,305 L1044.8,308.3 L1045.3,311.7 L1046,315 L1046.8,318.4 L1047.8,322 L1048.9,325.6 L1050.1,329.1 L1051.3,332.2 L1052.5,335 L1053.7,337.2 L1054.8,338.8 L1056,340.2 L1057.3,341.5 L1058.6,343 L1060,345 L1061.5,347.5 L1063.1,350.2 L1064.8,353.1 L1066.6,356.2 L1068.3,359.4 L1070,362.5 L1071.6,365.7 L1073.1,368.9 L1074.7,372.2 L1076.3,375.6 L1078,379 L1080,382.5 L1082.4,386.4 L1085.2,390.6 L1088.1,395 L1090.9,399.1 L1093.3,402.5 L1095,405"/>
<path class="ct" d="M975,700 L976.8,698.4 L979.2,696.1 L982.1,693.4 L985.2,690.6 L988.3,687.7 L991,685 L993.4,682.5 L995.8,679.9 L998.1,677.3 L1000.3,674.7 L1002.6,672.3 L1005,670 L1007.4,667.9 L1009.9,665.9 L1012.4,664 L1015,662.2 L1017.5,660.4 L1020,658.8 L1022.7,657 L1025.6,655.3 L1028.4,653.7 L1031.1,652.2 L1033.4,650.9 L1035,650"/>
</g>
<path d="M150.6,92.2 L153.1,94 L155.6,95.8 L157.6,98.1 L160.1,99.9 L163.7,100.8 L166.9,102.5 L169.5,103.5 L172.2,104.4 L174.7,105.5 L178,106 L178.5,102.8 L180,100 L182,97.5 L184,95 L185.1,92.2 L187,90 L187.6,86.2 L286.5,110 L289.2,110.5 L291.9,110.7 L294.6,111.3 L297.2,112.3 L299.8,113.3 L302.5,113.5 L400,128.8 L512.5,140.5 L633.8,144.5 L669.4,143.1 L669,140 L669.1,136.9 L669.4,133.8 L672.5,134.4 L675.6,134.8 L675.6,137.6 L676.5,140.4 L677.2,143.1 L677,146 L678,148.8 L681.1,149.5 L683.8,151.2 L686.6,152.1 L689.6,151.9 L692.5,152.5 L696,155 L699.1,153.4 L702.5,152.5 L706.3,152.3 L710,153 L712.6,153.8 L715,155 L717.2,158 L720,160.6 L722.4,159.3 L725,158.8 L727.5,160.5 L729.9,162.2 L732.5,163.8 L735.6,163.9 L738.8,164.4 L741.2,163 L743.3,161.1 L746,160 L750,162.8 L753.3,162.2 L756.7,162.3 L760,162.5 L762.4,163.6 L765,164.4 L768.8,164 L800,160 L850,172 L860,188 L862.6,190.3 L865,192.7 L868.8,192.7 L871.1,196.5 L872.5,198.8 L873.5,201.2 L877.2,203.6 L880.1,202.5 L882.9,201.2 L886.7,204 L890,208 L892.5,209.7 L895.1,211.3 L897.3,213.5 L900,215 L915,250 L918.2,278.7 L917.9,281.9 L918.3,285 L918,288.2 L915.3,288.9 L912.7,289.7 L912.1,292.3 L911.2,294.9 L911.1,297.6 L909.6,299.1 L908.9,302.2 L908.8,305.4 L907.7,308.1 L905.7,310.4 L904.9,313.2 L907.9,312.5 L910.9,312.6 L914,312.8 L916.9,311.9 L920,312 L940,298 L955,290 L970,280 L985.5,270.1 L984.2,267.2 L982.5,264.6 L981.7,261.5 L983,258.4 L984.2,255.3 L985,252 L1005,245 L1007.5,244.2 L1010.1,243.7 L1012.4,242.3 L1015.1,241.9 L1017.5,240.9 L1020,240 L1021.6,237.9 L1023,235.6 L1024.8,233.7 L1026.4,231.6 L1027.5,229.2 L1029,227 L1030.8,224.6 L1031.8,221.7 L1034.1,219.6 L1035.5,217 L1037.4,214.9 L1039.4,212.9 L1041,210.6 L1042.5,208.2 L1043.9,205.8 L1045.6,203.5 L1047.5,201.4 L1049,199 L1076,192 L1110,182.5 L1109.5,178.8 L1110,175 L1113,174.3 L1116,173.8 L1117.8,171.6 L1120,170 L1123.8,150 L1125,132.5 L1131,108.8 L1135,111 L1140,110 L1142.7,108.1 L1145.6,106.6 L1148.8,105.5 L1151.1,106.9 L1153.9,107.4 L1156.4,108.6 L1158.8,110 L1170,145 L1173,146.1 L1175.7,147.9 L1178.8,148.8 L1180.3,151.7 L1181,155 L1183.9,156.5 L1186.7,158 L1189.4,159.9 L1192.5,161 L1191.2,163.5 L1190.5,166.3 L1188.1,167.5 L1186.3,169.6 L1184,171 L1181,173.1 L1177.9,175 L1174.9,176.4 L1171.7,177.5 L1169.5,180 L1168,183 L1166.3,185.1 L1165.4,187.6 L1163.5,189.6 L1161.4,191.2 L1159.1,192.6 L1156.2,194.8 L1153,196.5 L1150.6,198.5 L1147.8,200.1 L1146.1,202.6 L1144.4,205 L1142.8,207.6 L1142.7,211 L1142.5,214.4 L1141.6,217.7 L1140.4,220.6 L1139.2,223.6 L1137.8,226.4 L1137.2,231.5 L1139,233.6 L1140.6,236 L1142.8,237.7 L1141,240.1 L1139.5,242.7 L1137.8,245.2 L1140.3,249 L1143.4,251 L1146.6,252.8 L1148.1,255 L1150.3,256.6 L1151.6,259 L1154.6,259 L1157.5,258.5 L1160.4,257.8 L1161.7,255.4 L1162.3,252.8 L1159.6,251.2 L1156.6,250.3 L1159,251.4 L1161.3,252.7 L1163.5,254 L1164.2,257.1 L1164.1,260.3 L1161,260.8 L1157.9,261.6 L1155.5,262.9 L1153,263.7 L1150.3,264.1 L1148.7,266.2 L1146.6,267.8 L1143.6,269.4 L1140.3,270.3 L1136.6,272 L1133.9,273.7 L1131,275 L1129.1,276.9 L1126.9,278.5 L1124.6,279.8 L1122.4,281.4 L1120,282.5 L1117.6,284.1 L1115.3,285.9 L1112.3,286.6 L1109.9,288.4 L1107.5,290 L1105.2,291.8 L1102.6,293.2 L1100.1,294.6 L1097.5,296 L1095,300 L1091,302.5 L1091.1,306.2 L1091,310 L1092.6,312.3 L1093.2,315.2 L1094.3,317.7 L1096,320 L1096.5,323.3 L1097,326.7 L1097.5,330 L1097.1,332.6 L1095.8,335 L1094.6,338.3 L1092.7,341.3 L1090.9,344.5 L1088.9,347.5 L1088.3,350.1 L1086.9,352.4 L1086.4,355 L1085.8,353.2 L1083.9,349.4 L1080.2,350 L1077.2,349.5 L1074.5,348.2 L1072.5,345.7 L1071.9,342.5 L1070,340 L1071,342.5 L1072.4,344.9 L1073,347.6 L1074.6,349.9 L1075.1,352.6 L1077,355.1 L1078.9,357.6 L1081.1,359.6 L1083.9,360.7 L1084.6,363.6 L1086.1,366.3 L1086,369.5 L1086.4,372.6 L1085.7,375.8 L1084.5,378.9 L1083.4,382.1 L1082,385.2 L1081.5,388.4 L1080.2,391.4 L1079.3,394.1 L1078.9,397 L1078.2,399.8 L1077.4,402.5 L1077.2,405.4 L1076.4,408.2 L1076.4,412.9 L1077.9,415.2 L1078.6,417.9 L1080.2,420.1 L1081.4,423.3 L1083.2,426.2 L1085.2,428.9 L1086.6,431.2 L1088.3,433.3 L1090.2,435.1 L1091.8,437.7 L1093.9,440 L1095.4,443 L1096.4,446.3 L1096.6,448.9 L1097,451.6 L1097.1,454.2 L1093.3,456.4 L1091.4,458.4 L1088.9,459.5 L1087.4,462 L1085.2,463.9 L1084.1,466.5 L1082.6,468.9 L1081.3,472.5 L1079.5,475.8 L1076.8,474.4 L1073.9,473.3 L1070.6,474.1 L1067.6,475.8 L1064.8,478.3 L1062,480.8 L1059.7,482.5 L1057.8,484.6 L1056.3,487 L1055.3,489.7 L1055.4,492.6 L1055.1,495.5 L1054.6,498.3 L1053.8,501 L1051.1,502.1 L1048.3,502.9 L1045.5,503.3 L1042.6,503.8 L1040,505 L1037.8,507.3 L1036.3,510 L1034.2,512.4 L1032.5,515 L1031.2,517.4 L1030.9,520.2 L1029.3,522.4 L1028.1,524.8 L1027.5,527.5 L1025.2,528.9 L1023.2,530.6 L1021.3,532.5 L1019.4,534.4 L1016.9,535.6 L1015,537.5 L1013.1,539.6 L1010.8,541.3 L1008.6,543.1 L1007.1,545.6 L1005,547.5 L1003.6,550.1 L1001.6,552.2 L1000.3,554.9 L999.3,557.7 L997.5,560 L997.1,562.6 L996.2,565.1 L994.6,567.4 L993.8,569.9 L993.7,572.6 L992.5,575 L991.8,578 L991.4,580.9 L991.4,584 L991.5,587 L991,590 L991.5,593 L992.5,595.9 L993.2,598.9 L992.7,602.1 L993.8,605 L994.6,607.6 L995.8,610 L996.4,612.7 L998,615 L998.6,617.7 L1000,620 L1010,637.5 L1011.4,639.8 L1013.6,641.5 L1015.2,643.6 L1016.8,645.7 L1018.6,647.7 L1020,650 L1021.8,652.6 L1023.8,655 L1023.4,658.8 L1022.5,662.5 L1032.5,677.5 L1034.1,680 L1035.8,682.3 L1036.6,685.2 L1038.6,687.4 L1040,690 L1045,707.5 L1046,725 L1045.2,728.1 L1044.2,731.2 L1042.9,734.3 L1042.5,737.5 L1040.7,739.4 L1038.4,740.9 L1036.9,743.1 L1035,745 L1032.5,743.1 L1030,741.2 L1027.2,739.8 L1025,737.5 L1023.6,735 L1022,732.7 L1021,730 L1018,729.2 L1015.6,727.2 L1012.6,726.6 L1010,725 L1007.9,722.5 L1006,719.8 L1003.8,717.5 L1001.5,715.5 L999.1,713.6 L997,711.5 L994.8,709.5 L992.5,707.5 L981,687.5 L972.5,672.5 L973.4,668.8 L973.8,665 L975,660 L973.6,657.7 L973.1,655 L971.7,652.6 L970.8,650.1 L970,647.5 L967.7,645.4 L965,643.7 L962.5,641.8 L960,640 L958.2,638 L956.3,636.1 L954,634.6 L952.1,632.7 L950,631 L947.5,629.2 L945,627.4 L942.6,625.4 L940,623.8 L936.3,624.4 L932.5,625 L930.6,626.8 L928.8,628.8 L926.5,630.3 L925,632.5 L922.4,633.9 L919.8,635.3 L917.2,636.8 L915,638.8 L912.4,638.1 L910,636.9 L907.5,636 L906,633.6 L904,631.5 L901.6,629.9 L900,627.5 L897.4,627 L895,625.7 L892.3,625.1 L890,623.8 L887,623.8 L884,623.7 L881,622.8 L878,622.4 L875,622.5 L871.9,622.9 L869.1,624.4 L865.9,624.6 L863,625.4 L860,626.4 L857.5,627.4 L854.8,627.1 L852.2,627.6 L849.7,628.7 L848.6,625.9 L848.6,622.8 L847.3,620.1 L845,619.3 L844.6,622.2 L843.9,625.1 L843.4,628 L839.8,627.8 L836.3,628.7 L832.9,628.3 L829.5,629.1 L826.1,628.7 L823,629.8 L819.8,630.8 L816.7,631.9 L813.7,634.4 L810.5,636.6 L807.9,638.4 L805,639.7 L807.3,642.9 L809.9,641.6 L812.7,641 L815.2,639.7 L814.8,642.4 L813.3,644.7 L812.4,647.3 L811.9,650 L810.5,652.3 L813,655.3 L815.2,658.5 L818.3,659.7 L821.5,660.6 L824.6,661.7 L822.8,663.7 L820.1,664.4 L818.3,666.4 L817.8,663.2 L816.7,660.1 L813.8,658.1 L810.5,657 L807.9,657.9 L805.3,658.3 L802.6,658.5 L799.8,655.7 L797.9,652.3 L797.6,655 L798.2,657.8 L798.3,660.5 L797.9,663.2 L795.3,663.6 L792.7,663.3 L790.1,664 L787.4,664.5 L785,665.9 L782.3,666.4 L779.8,665.6 L777.8,663.6 L775.3,662.8 L772.9,661.7 L771.5,659.2 L769.7,657 L766.3,655.8 L763.4,653.8 L760.3,649.9 L757.2,650.8 L754,650.7 L751.5,653.3 L749.3,656.2 L746.5,655.8 L743.6,655.7 L740.9,654.3 L738,654.1 L735.2,653.8 L732.1,653.1 L728.9,653.5 L725.9,652.3 L722.7,652.3 L720,653.1 L717.1,652.7 L714.5,653.5 L711.7,653.8 L709.2,654.6 L706.6,655.1 L704.1,655.8 L701.2,657 L699,659.3 L696.4,661 L693.6,662.3 L691.6,664.3 L689.9,666.5 L688,668.5 L685.7,670.2 L683.8,672.1 L681.8,673.8 L679.6,675.2 L677.4,676.7 L675.2,678.1 L659.4,686 L657.2,687.8 L654.6,689.1 L652.6,691.1 L650.2,692.6 L647.6,694.8 L645.2,697.2 L642.3,699.1 L640.8,701.5 L639.5,704 L637.6,706.2 L635.8,708.3 L635.2,711.5 L633.4,714.3 L632.5,717.5 L632.2,720.1 L632.4,722.8 L631.8,725.4 L632.3,728.5 L632.2,731.6 L633.1,734.6 L634.2,737.1 L634.1,739.9 L635.2,742.5 L635.8,745.1 L636.3,747.9 L636.4,750.8 L637.3,753.5 L635,755.6 L632.5,757.5 L630,756.2 L627.6,754.8 L625.2,753.3 L622.5,752.5 L619.5,752.2 L616.6,751.1 L613.5,750.8 L610.5,750.4 L607.5,750 L592.5,740 L583.8,725 L582.9,722 L582.1,719 L581,716.1 L580.4,713.1 L580,710 L567.5,695 L565.8,692.7 L565.2,689.9 L563.5,687.6 L562.2,685.2 L560.8,682.7 L560,680 L550,665 L548.2,662.8 L546.1,660.9 L543.9,659.2 L541.5,657.7 L539.4,655.8 L537.5,653.8 L520,650 L516.7,651.1 L513.3,651.7 L510,652.5 L509.1,655.2 L507.6,657.5 L506.5,660.1 L505,662.5 L502.7,664.3 L500.9,666.4 L499.3,668.8 L497.5,671 L494.9,670 L492.7,668 L489.9,667.4 L487.5,666 L484.9,664.4 L482.2,663.1 L479.9,661 L477.5,659.2 L475,657.5 L473.2,655 L471.1,652.7 L469.6,650 L467.4,647.8 L466,645 L465,642.1 L464.2,639.1 L463.8,636 L462.7,633.1 L462.5,630 L450,617.5 L437.5,605 L425,591 L389.5,589.5 L389.8,592.7 L389.2,595.9 L388.8,599 L368.8,598 L323.8,592 L246,547.5 L246.5,544.9 L247.5,542.5 L196,536 L195.9,533.3 L195.6,530.6 L195.7,527.9 L195.4,525.2 L195,522.5 L193.7,519.9 L192.4,517.3 L190.4,515.1 L188.8,512.6 L187.5,510 L185.9,507.6 L183.2,506.3 L181.7,503.8 L179.6,501.9 L177.5,500 L176.2,497.7 L176.2,494.9 L175,492.5 L172.7,490.9 L170.1,489.9 L167.6,488.5 L165.2,487.2 L162.3,486.6 L160,485 L157.9,483.1 L155.8,481.2 L154,479.1 L151.9,477.3 L149.8,475.4 L147.5,473.8 L144.8,472.4 L142.2,470.9 L139.3,469.8 L136.6,468.6 L133.8,467.5 L134.1,463.7 L135,460 L133.9,457 L133.4,453.8 L133,450.7 L132.5,447.5 L125,430 L118.8,412.5 L119.1,409.1 L120.6,405.9 L121,402.5 L118.7,399.7 L116.4,397 L115.6,394.4 L114.6,391.9 L113.5,389.4 L114.2,386.8 L114.5,384.2 L114,379.5 L114.7,376.1 L115.4,372.8 L112.1,370 L110.2,367.1 L109.2,363.8 L109.4,360.4 L108.8,357.1 L107.6,354.6 L105.9,352.4 L104.5,350 L103.8,347.5 L103.2,344.9 L101.8,342.6 L101.7,339.9 L100.5,337.6 L100,335 L102.5,312.5 L101.1,310.2 L100.3,307.6 L99.7,304.9 L98.2,302.6 L97.5,300 L99.1,297.6 L100.7,295.3 L101.6,292.5 L103,290 L110,272.5 L110.4,269.5 L111,266.5 L111.7,263.5 L112.3,260.5 L112.5,257.5 L112.5,235 L114.1,232.6 L115.6,230.1 L116.6,227.3 L118.2,224.8 L120,222.5 L121.6,219.8 L123.8,217.7 L125.2,214.9 L127.3,212.5 L129,210 L136,187.5 L143.8,167.5 L143.6,164.7 L144.1,161.9 L145,159.2 L145.2,155.7 L146.1,152.4 L146.3,148.9 L147.4,146.4 L148,143.7 L148.7,141 L148.8,138.2 L149.6,135.5 L150,132.7 L150.6,130 L150.4,127.1 L149.9,124.3 L150.2,121.4 L150.9,118 L150.4,114.5 L151,111.1 L150.4,107.9 L148.9,105.1 L149.2,101.6 L148.5,98.2 L149,95Z" fill="none" stroke="#222" stroke-opacity="0.92" stroke-width="1.45" stroke-linejoin="round"/>
<path class="st" d="M146.3,150.5 L148.8,151.3 L151.4,151.7 L154.1,151.9 L156.3,153.3 L158.4,154.9 L161.5,156 L164.4,157.5 L166.5,161 L166,164 L165.6,167 L165,170 L167.4,171.5 L170.1,172.3 L172.5,173.7 L175,175 L192.5,176 L195,176.9 L197.4,178 L200,178.4 L202.6,179 L205,180 L235,179 L272.5,186 M286.5,110 L272.5,186 M272.5,187.1 L273.6,190 L275.2,192.7 L277.6,194.9 L278.8,197.8 L268.8,214.1 L267.5,216.6 L265.2,218.3 L263.6,220.6 L262,222.9 L260.6,225.4 L258.8,227.5 L259.9,230.1 L261.1,232.6 L262.5,235 L261.3,237.5 L260.6,240.2 L259.2,242.5 L258,245 L250,290 M112.5,257.5 L191,279 L250,290 L306,302.5 L364,310 M191,279 L173.8,355 L262.5,481 M306,302.5 L283.8,433 M283.8,433 L280,452.5 L277.3,454.8 L275,457.5 L272.7,455.9 L270,455 L267.5,453.8 L266.2,457 L264.5,460 L262.5,481 M262.5,481 L263.3,483.8 L264.1,486.7 L264.2,489.7 L265,492.5 L266.4,494.8 L266.8,497.5 L268,499.9 L268.8,502.5 L266.9,504.7 L264.4,506.2 L262.5,508.5 L260,510 L259.3,512.5 L258.9,515.1 L258,517.6 L256.9,520 L256,522.5 L254.5,524.8 L254,527.7 L252.5,530 L253.6,532.4 L254,535 L255,537.5 L252.2,538.8 L250,540.8 L247.5,542.5 M303.3,113.8 L298.2,138.9 L299.6,141.3 L299.9,144.1 L301.9,146.2 L302.6,148.9 L301.4,153.9 L303,156.3 L305.3,158.1 L306.9,160.5 L308,163.3 L310.2,165.2 L311.7,167.9 L312.6,170.9 L314,173.7 L315.2,176.5 L317.7,177.3 L320.2,178.2 L322.7,179 L322.1,181.9 L320.5,184.5 L320.3,187.6 L318.9,190.3 L318.4,193.1 L317.9,196 L316.9,198.6 L316,201.4 L315.2,204.1 L316,207.2 L317.6,210 L320,208.5 L322.4,206.8 L325.1,205.7 L326.2,208.8 L326.2,212.1 L327.6,215.1 L328.8,218.1 L329,221.4 L330.1,224.4 L330.7,227.6 L333.4,230.2 L336.4,232.6 L337.4,235.9 L337.9,239.3 L338.9,242.6 L342.2,242 L345.6,241.6 L348.9,240.8 L352.2,241.6 L355.6,241.7 L358.9,242 L362.7,241.3 L366.5,241.4 L369,237.6 L370.7,239.9 L371,242.9 L372.7,245.2 M375,232.5 L364,310 L361,337.5 L398.8,342.5 M375,232.5 L400,235 L506,245 M512.5,140.5 L508.8,221 L506,245 L502.5,300 L498.8,351 M398.8,342.5 L498.8,351 L538.8,353 L537,380.5 L533.8,460 M398.8,342.5 L386,448 L368.8,598 M283.8,433 L386,448 L388.9,448 L391.6,449 L394.4,449.4 L397.1,450.1 L400,450 L513.8,460.5 L533.8,460 L688.8,462 M513.8,460.5 L512,472.5 L505,592 L425,586 L425,591 M512,472.5 L576,475.5 L575,526 L577.6,527.5 L580,529.3 L582.5,531 L585,531.9 L587.5,532.9 L590,533.9 L592.5,535 L594.9,536 L597.6,536.4 L600,537.6 L602.7,537.8 L605.1,539 L607.5,540 L610.1,540.6 L612.6,541.1 L614.9,542.5 L617.6,542.8 L620,543.8 L640,547 L657.5,549 L660.6,548.1 L663.6,547 L666.3,545.1 L669.4,544.1 L672.9,544 L676.3,543.4 L679.6,542.5 L682.4,544.5 L685.6,545.7 L688.2,548 L690.7,549.3 L693.1,550.8 L695.7,552 L699,552.2 L702.3,552.5 L705.5,553.2 M537,380.5 L672.5,382 M502.5,300 L607.5,302.5 L620,307.5 L635,306 L646,311 M508.8,221 L645.6,224.4 M633.8,144.5 L636,165 L641,185 L642.5,205 L642.8,208.2 L643.9,211.3 L644.5,214.4 L645.6,217.5 L645.2,220.9 L645.6,224.4 L644.7,226.9 L643.2,229 L641.8,231.2 L641,233.8 L643,236.5 L645.6,238.6 L648,241 L648.8,288.8 L648.2,291.8 L647,294.6 L646,297.5 L647.6,300.6 L650,303 L649.1,305.9 L647.5,308.4 L646,311 L646.9,314 L648.7,316.6 L650.2,319.3 L651.4,322.1 L652.5,325 L652.9,327.6 L654.3,329.9 L655.1,332.5 L655.7,335 L656.3,337.6 L657.5,340 L658.2,343 L659.3,345.9 L659.5,349 L660.8,351.9 L661,355 L662.4,357.6 L663.3,360.4 L663.8,363.3 L665,366 L666.7,368.2 L667.8,370.7 L669.8,372.7 L671.4,375 L672.5,377.5 L674.6,379.7 L675.6,382.6 L677.5,385 L679.8,386.6 L682.5,387.5 L680.9,390.8 L678.8,393.8 L681,395.5 L683.1,397.4 L684.6,399.9 L686.9,401.6 L688.8,403.8 L688.8,462 L689.6,464.5 L689.5,467.2 L690,469.8 L690.6,472.4 L691,475 L695.5,530 L695.7,552 M648.8,288.8 L720,286 L747.5,285 M665,366 L720,364.5 L745,362.5 L750,366 M691,475 L720,473.8 L740,472.8 L783.9,469.6 L786.4,472.8 L784.4,475.1 L782.8,477.5 L781.3,480.1 L780.1,482.8 L782.9,482.3 L785.6,482.8 L788.4,482.5 L791.1,482.6 L793.9,482.5 M705.5,553.2 L706.2,592.7 L707.8,595.4 L709.6,598.1 L711.7,600.5 L713.6,603.1 L714.4,606.3 L716.7,608.6 L718,611.5 L718,614.3 L718.8,617 L718.3,619.8 L718.8,622.5 L718.4,625.4 L717,628.1 L716.2,630.9 L715.4,633.7 L714.9,636.6 L715.2,639.7 L715,642.9 L715.6,646 L713.8,648.4 L713.4,651.4 L711.7,653.8 M706.2,567.1 L768.2,564.2 M726,201 L723.8,204 L723.6,206.7 L724.3,209.4 L724.5,212.1 L724.2,214.8 L724.4,217.5 L722.4,219.6 L719.6,220.6 L717.5,222.5 L716.2,224.9 L715.9,227.7 L714.4,230 L716.4,233.1 L718.8,236 L717.8,239 L716.8,242 L716,245 L715.8,248.1 L716.1,251.1 L717,254 L732.5,262.5 L745,275 L745.9,278.3 L746.3,281.8 L747.5,285 L748,287.6 L748.7,290.2 L750.5,292.3 L750.4,295.2 L752,297.4 L752.5,300 L754.7,301.5 L756.2,303.7 L757.9,305.8 L759.6,307.7 L762,309.1 L763.8,311 L765.3,313.5 L767.8,315.2 L768.8,318.1 L771,320 L771,323.1 L770.5,326.2 L770.7,329.4 L770,332.5 L767.8,334.4 L765.3,336 L762.4,336.9 L760,338.4 L757.5,340 L757.2,343.1 L757.1,346.2 L757.6,349.4 L757.5,352.5 L755.7,355 L754.8,358.1 L752.6,360.4 L751.7,363.4 L750,366 L749.7,368.8 L750.5,371.6 L750.7,374.4 L750.8,377.2 L751,380 L753.1,382.2 L754.7,384.7 L755.9,387.5 L757.6,390 L759.6,392.1 L762.3,393.4 L764.2,395.5 L766.3,397.5 L767.7,400.4 L768.5,403.5 L770.1,406.3 L773,406.8 L776,405.8 L778.9,406.3 L778.4,409.2 L778.5,412.2 L777.6,415 L776.7,418.8 L776.4,422.6 L777.9,424.8 L780,426.5 L782,428.3 L783.9,430.1 L786.4,431.3 L788.6,432.9 L790.7,434.6 L792.7,436.4 L794.4,439.2 L795.5,442.1 L796.4,445.2 L797.2,448.3 L799.1,450.9 L800.2,453.9 L804.6,455.2 L803.9,458.1 L803.8,461 L803.9,464 L800.6,465.6 L797.7,467.7 L796.4,470.5 L795.8,473.5 L795.2,476.5 L795.4,479.6 L795.2,482.8 L793.6,485.7 L792,488.7 L790.2,491.6 L789.8,494.3 L788.9,496.8 L787.6,499.1 L787.1,502 L786.8,505 L786.4,507.9 L784.3,509.6 L783,511.9 L781.4,514 L780,517.5 L778.6,519.9 L777.9,522.5 L776.8,525 L775.5,527.4 L775.3,530.2 L773.8,532.5 L773,535.2 L771.3,537.5 L770,540 L768.9,542.9 L767.4,545.7 L768.1,548.4 L769,551.1 L769.5,553.8 L769.7,556.6 L769.6,559.3 L768.6,561.8 L768.2,564.5 L769.8,567 L771,569.8 L771.5,572.8 L772.9,575.5 L774.1,578.6 L775.2,581.7 L774.1,584.1 L771.7,585.6 L770.5,588 L769.2,591.1 L767.5,594.1 L766.6,597.4 L765.4,599.9 L764.4,602.6 L763.4,605.2 L762.8,608.4 L761.9,611.5 L762.7,614.2 L762.7,617 L805,614.6 L804,617.1 L804,619.9 L803.4,622.5 L805.4,625 L807.4,627.5 L808.9,630.3 L809.6,633.5 L810.5,636.6 M763.8,311 L816,306 M760,203 L762.2,205.2 L763.8,208 L766.6,208.2 L769.2,209.3 L772.1,209.5 L774.8,210 L777.5,211 L780,211.8 L782.5,212.5 L785.1,213.1 L787.5,214.1 L790,215 L795,214.9 L798,216.1 L801.2,216.5 L802.8,219.2 L805.4,220.4 L807.5,222.3 L808,224.9 L808.3,227.5 L807.9,230.2 L811.4,231.7 L811.8,235.6 L813,237.2 M826,326 L830.3,390 L831.1,392.5 L832.1,394.9 L832.8,397.5 L832.6,400.5 L833.4,403.4 L833.4,406.3 L831.9,409.2 L830.6,412.2 L829,415.1 L827.9,417.6 L826.1,419.9 L825.3,422.6 L826,426 L825.9,429.5 L825.7,432.3 L825.3,435.1 L824.3,437.8 L822.8,440.2 L819.7,442.2 L816.5,443.9 L819,447.7 L816.5,451.4 L813.3,450 L809.8,449.9 L806.5,448.9 L803.9,451.3 L801.4,453.9 M825.9,429.5 L829.4,428.6 L832.8,427.6 L836.5,427.1 L840.3,427 L844.1,428.9 L845.8,426.6 L848.3,425.2 L850.3,423.2 L854.1,426.4 L855.1,423.9 L856.4,421.6 L857.8,419.3 L859.1,417 L861.1,418.8 L863,420.8 L865.4,422 L866.6,419.2 L868.4,416.8 L869.2,413.8 L871.7,411.6 L873.1,408.6 L875.4,406.3 L875.6,403.1 L876.7,400 L879.5,398.8 L882.7,398.7 L885.5,397.5 L888,393.8 L885.5,390 L886,388 M840,322.5 L877.5,319.5 L905,315 M877.5,319.5 L886,388 L889,387.8 L892,388.2 L895,388.8 L897.6,390.7 L899.7,393.3 L902.5,395 L905.5,395.2 L908.5,395.6 L911.5,395.2 L914.5,395.8 L917.5,396 L920.5,395.2 L923.2,393.7 L926,392.5 L927.9,394.8 L930.2,396.6 L932.8,398 L935,400 L935.5,397.3 L937.3,395.1 L937.6,392.3 L938.5,389.8 L940.2,387.6 L941,385 L944.4,384.1 L947.5,382.5 L948.7,379.3 L949.7,376 L950,372.5 L951.8,370.3 L953.7,368.2 L955.7,366.2 L958.4,364.9 L960,362.5 L960.8,359.8 L962.1,357.3 L963.1,354.8 L964.4,352.3 L966,350 L965.3,347.4 L965.4,344.8 L965,342.2 L965,339.6 L965,337 M961,300 L965,337 L970,358.8 L1063.8,340 L1065,340 M972.5,291 L973.8,295 L1058.8,278.8 L1060.8,281.2 L1062.8,283.6 L1065,286 L1066.8,288 L1068.7,289.7 L1071,291 L1070.1,293.7 L1070.2,296.6 L1069.2,299.3 L1069.3,302.2 L1068.8,305 L1069.9,307.4 L1071,309.8 L1071.6,312.5 L1072.5,315 L1074.9,316.6 L1076.9,318.6 L1078.8,320.7 L1081,322.5 L1078.9,324.8 L1077.1,327.3 L1075.9,330.3 L1073.8,332.5 L1072.9,335.2 L1071.5,337.6 L1070,340 M1071,291 L1091,302.5 M1065,340 L1073.8,371 L1085,370 M991,355.5 L991.5,358.5 L992.8,361.4 L992.9,364.5 L993.8,367.5 L995.9,365.8 L997.8,363.9 L999.4,361.8 L1001.4,359.9 L1003,357.8 L1005,356 L1007.9,354.4 L1010.6,352.3 L1013.8,351 L1016.2,351.9 L1018.8,352.5 L1020.9,354.5 L1023.3,356.1 L1025.4,358 L1027.5,360 L1031.2,360.8 L1035,361 L1037.5,362.6 L1039.7,364.7 L1042.2,366.3 L1045,367.5 L1043.8,370.7 L1043.8,374.3 L1042.5,377.5 L1045.3,379.7 L1047.5,382.5 L1050.1,383.3 L1052.6,384.4 L1054.9,385.7 L1057.4,386.8 L1060,387.5 L1062.5,389.2 L1064.9,391 L1067.5,392.5 M1027.5,360 L1024.4,359.5 L1021.2,359.5 L1018.1,358.8 L1015,358.8 L1014.2,361.3 L1012.3,363.2 L1011.4,365.7 L1009.9,367.9 L1009.1,370.4 L1007.5,372.5 L1006.7,375.1 L1005.7,377.6 L1004.7,380.1 L1003.3,382.4 L1002.5,385 L999.2,385.9 L995.7,386.2 L992.5,387.5 L991.8,390.6 L991.5,393.8 L990.5,396.9 L990,400 L988.7,402.5 L987.9,405.2 L986.2,407.5 L985.5,410.2 L983.8,412.5 L981.6,414.6 L979.2,416.5 L976.9,418.3 L974.4,420.1 L972.5,422.5 L969.9,423.6 L967.7,425.5 L965,426.3 L962.6,427.7 L960,428.8 L957.6,427 L955.2,425.3 L952.3,424.4 L950,422.5 L948.6,420.2 L946.5,418.5 L944.7,416.5 L943.3,414.2 L941.6,412.1 L940,410 L938.5,407.6 L937.3,405.1 L936.2,402.5 L935,400 M950,422.5 L940,435 L930,445 L920,451 M798.9,468.4 L827.8,465.2 L827.8,461.5 L900,453.9 L920.1,450.7 L961.5,445 L1040,431.2 L1077.5,422.5 M961.5,445 L961.6,448.1 L961.5,451.3 L959.6,453.2 L957.5,454.9 L955.2,456.3 L952.4,457.6 L950.2,459.6 L947.7,461.3 L945.1,462.4 L942.7,463.9 L940.2,466.4 L937.7,468.9 L935.9,470.9 L933.8,472.5 L932,474.5 L930.2,476.4 L927.6,476.9 L925.1,477.9 L922.6,478.9 L919.9,480.5 L917.6,482.7 L917.4,485.5 L917,488.3 L912.6,488.3 L912.7,491.8 L912,495.2 M786.4,508.5 L830.3,506.6 L884.8,499.7 L912.5,495.2 L936.4,492.4 L939.2,491.1 L941.7,489.1 L944.6,487.9 L947.3,486.4 L950.2,485.2 L953.6,484.8 L956.9,484.1 L960.2,483.3 L980.3,480.8 L982.8,482 L984.7,484.5 L987.2,486.4 L987.8,488.3 L1011.7,484.5 L1040,505 M936.4,492.4 L938.5,494.5 L939.5,497.3 L941.7,499.4 L943,502 L944.8,504.7 L946.4,507.5 L948.1,510.3 L950.2,512.8 L952.5,514.7 L954.7,516.7 L956.9,518.6 L959.6,520.3 L961.5,522.8 L963.6,524.6 L965.8,526.4 L967.5,528.6 L969.9,530.2 L972,532 L974,534.4 L976.4,536.3 L978.7,538.3 L980.4,541 L982.8,542.9 L984,545.3 L985.9,547.3 L987.7,549.3 L988.8,551.8 L990.3,554 L992.2,556.2 L994,558.5 L997.5,560 M831,507 L832.4,577 L836.3,627.2 M885,500 L897.5,540 L907.5,567.5 L906,585 L907.1,587.4 L907.7,590 L908.9,592.4 L909.5,594.9 L910.6,597.4 L911,600 L912.5,602.3 L913.2,604.9 L914.4,607.3 L915,610 L977.5,605.5 L981,608.8 L980.5,605.4 L980.6,602.1 L980,598.8 L982.8,598.2 L985.5,598.9 L988.2,598.3 L991,598.8 M856,622.5 L853.8,610 L911,603.5 M1076,192 L1076.8,194.5 L1077.4,197.1 L1078,199.7 L1078.8,202.3 L1079.3,204.9 L1080,207.5 L1083.8,225 L1085.5,227.4 L1087.5,229.7 L1088.8,232.5 L1091,250 L1093.8,272.5 L1097.5,290 L1096.8,292.5 L1096.3,295.2 L1095,297.5 M1110,175 L1108.8,195 L1105,205 L1103.8,225 L1106,245 M1092.7,248.4 L1106.5,244.6 L1127.8,240.2 L1132.8,235.2 L1137.2,231.5 M1093.8,263.8 L1126.5,260.9 L1134,258.4 L1136.6,269.1 L1136.6,272 M1126.5,260.9 L1129.7,275.3 M1115.2,172.5 L1135.3,226.4 L1137.2,229"/>
<path class="lk" d="M726,201 L735,191 L743.8,181 L755,172.5 L768.8,164 L770,164 L774.7,156 L777.5,150.4 L782.2,148 L788.8,141 L792.1,136.3 L795.4,135.3 L801,137.7 L809.5,140 L818.9,138.2 L824.1,138.6 L828.3,143.8 L831.1,151.3 L836.8,157.5 L845.3,157.9 L854.7,156.5 L853.3,164.5 L860.3,171 L861.3,177.7 L859.4,181.4 L866.9,182.4 L865,187 L865,192.7 L856.5,194.6 L856,187.5 L850,189.9 L841.5,191.8 L834,194.6 L828.3,199.3 L824.6,200.3 L820.8,198.4 L814.2,199.3 L809.5,194.6 L804.8,190.9 L798.2,190.4 L795.4,192.7 L793.5,190.9 L796.3,185.2 L801,178.6 L804.8,176.3 L800.1,175.8 L794.5,178.2 L790.7,182.4 L786,186.1 L779.4,190.9 L774.7,194.6 L770,195.1 L766,198.8 L760,203 L748.8,202.5 L750,194 L740,197.5 L728.8,201.5Z"/>
<path class="lk" d="M864.1,211.8 L859.8,208.3 L854.4,205.5 L849.7,206.3 L845.8,209.8 L840.3,211.4 L835.6,213.8 L833.3,216.9 L830.2,214.1 L829.4,220 L826.2,217.7 L823.1,214.1 L821.6,218.4 L818.4,223.9 L816.1,230.2 L813,237.2 L809.8,242.7 L807.5,248.9 L806.7,252 L809.8,251.2 L813.8,245 L818.4,239 L821.6,234 L823.9,230.9 L822.3,237.2 L820,243.4 L818.4,249.7 L816.1,257.5 L817.7,261.4 L815.3,265.3 L815.7,272 L815,280 L816,300 L820,315 L826,326 L831,327.5 L840,321 L846,307.5 L847.5,292.5 L843.8,280 L838.4,272 L838.8,266.9 L837.2,262.2 L838.8,257.5 L840.7,251.2 L840.3,245 L842.7,239.5 L847.3,236.4 L848.9,232.5 L850.9,230.9 L850.5,238.8 L852,241.9 L854.4,240.3 L855.5,234 L855.2,227.8 L857.5,225.5 L862.2,223.5 L859.8,221.6 L858.3,218.4 L860.6,214.5 L863.8,213.4Z"/>
<path class="lk" d="M862.7,209.7 L865,205.9 L873.5,205.4 L882.9,205.9 L886.7,204 L882.9,201.2 L877.2,203.6 L873.5,201.2 L871.1,196.5 L868.8,192.7 L869.7,190.9 L873.5,191.8 L874.4,196.5 L890,197.4 L897,197.2 L919,195.7 L936.2,197.2 L944,206.6 L951.9,210.6 L953.4,217.6 L961.3,222.3 L958.2,225.5 L954.2,224.7 L957.4,232.5 L950.3,231.7 L944,228.6 L940.1,231.7 L937,225.5 L931.5,222.3 L929.9,216.8 L922.9,217.6 L928.4,225.5 L933.1,230.2 L929.2,238 L926.8,247.4 L929.9,264.6 L925.2,272.5 L919,278.7 L918.2,278.7 L915.8,272.5 L912.7,263 L908.8,255.2 L903.3,253.7 L897,258.4 L892.3,266.2 L887.6,264.6 L887.6,258.4 L891.5,253.7 L892.3,247.4 L895.5,238 L893.1,228.6 L889.2,221.5 L881.3,218.4 L873.5,215.3 L864.1,213.7Z"/>
<path class="lk" d="M904.9,314.8 L912.7,319.5 L917.4,318.7 L923.7,321 L931.5,316.4 L944,308.5 L959.7,300.7 L972.3,291.3 L981.7,277.2 L986.4,270.1 L984.8,270.1 L969.1,274 L958.9,280.3 L964.4,283.5 L958.2,282.7 L940.9,285 L933.1,294.4 L923.7,300.7 L920.5,305.4 L909.6,305.4Z"/>
<path class="lk" d="M918.2,278.7 L918,288.2 L912.7,289.7 L911.1,297.6 L909.6,299.1 L908.8,305.4 L904.9,313.2 L906.5,313.5 L910.5,305.6 L911.5,299.5 L921.3,296 L919.8,289.7 L919.6,279Z"/>
<path class="lk" d="M967.6,261.5 L973.8,263.9 L981.7,261.5 L994.2,255.2 L1006.7,253.7 L1021.6,252.9 L1030.3,245.8 L1032.6,238 L1030.3,231.7 L1027.9,227 L1035,219.2 L1042.8,208.2 L1049,199.5 L1048,199 L1036.5,214.5 L1027.1,224.7 L1018.5,230.2 L1004.4,234.9 L991,240.3 L975.4,247.4 L969.1,255.2 L967.6,259.9Z"/>
<path d="M323.8,312.5 L328,313 L332.5,321 L341,320 L342.5,325 L340,330 L342.5,337.5 L333.8,341 L327.5,337.5 L326,327.5 L322.5,323.8Z" fill="#fff" stroke="#555" stroke-width="0.8"/>
<path d="M777.5,166.4 L782,162 L788.8,158.4 L786,162.5 L780,167Z" fill="#9a8a7a" stroke="#555" stroke-width="0.9"/>
<path class="lk" d="M891.5,205 L897,203.5 L904,205 L909.6,202 L915.8,199.6 L920.5,202 L921.3,206.6 L917.4,210.6 L911.1,209 L904.9,206.6 L897,205.9Z"/>
<path class="lk" d="M1004.5,232 L1010,229.5 L1017,228.5 L1018.5,231.5 L1013,234 L1007,233.5Z"/>
<path class="st" d="M726,201 L735,191 L743.8,181 L755,172.5 L768.8,164 M865,192.7 L856.5,194.6 L856,187.5 L850,189.9 L841.5,191.8 L834,194.6 L828.3,199.3 L824.6,200.3 L820.8,198.4 L814.2,199.3 L809.5,194.6 L804.8,190.9 L798.2,190.4 L795.4,192.7 L793.5,190.9 L796.3,185.2 L801,178.6 L804.8,176.3 L800.1,175.8 L794.5,178.2 L790.7,182.4 L786,186.1 L779.4,190.9 L774.7,194.6 L770,195.1 L766,198.8 L760,203 L748.8,202.5 L750,194 L740,197.5 L728.8,201.5 L726,201 M864.1,211.8 L859.8,208.3 L854.4,205.5 L849.7,206.3 L845.8,209.8 L840.3,211.4 L835.6,213.8 L833.3,216.9 L830.2,214.1 L829.4,220 L826.2,217.7 L823.1,214.1 L821.6,218.4 L818.4,223.9 L816.1,230.2 L813,237.2 L809.8,242.7 L807.5,248.9 L806.7,252 L809.8,251.2 L813.8,245 L818.4,239 L821.6,234 L823.9,230.9 L822.3,237.2 L820,243.4 L818.4,249.7 L816.1,257.5 L817.7,261.4 L815.3,265.3 L815.7,272 L815,280 L816,300 L820,315 L826,326 L831,327.5 L840,321 L846,307.5 L847.5,292.5 L843.8,280 L838.4,272 L838.8,266.9 L837.2,262.2 L838.8,257.5 L840.7,251.2 L840.3,245 L842.7,239.5 L847.3,236.4 L848.9,232.5 L850.9,230.9 L850.5,238.8 L852,241.9 L854.4,240.3 L855.5,234 L855.2,227.8 L857.5,225.5 L862.2,223.5 L859.8,221.6 L858.3,218.4 L860.6,214.5 L863.8,213.4Z M862.7,209.7 L865,205.9 L873.5,205.4 L882.9,205.9 L886.7,204 L882.9,201.2 L877.2,203.6 L873.5,201.2 L871.1,196.5 L868.8,192.7 M918.2,278.7 L915.8,272.5 L912.7,263 L908.8,255.2 L903.3,253.7 L897,258.4 L892.3,266.2 L887.6,264.6 L887.6,258.4 L891.5,253.7 L892.3,247.4 L895.5,238 L893.1,228.6 L889.2,221.5 L881.3,218.4 L873.5,215.3 L864.1,213.7 M918.2,278.7 L918,288.2 L912.7,289.7 L911.1,297.6 L909.6,299.1 L908.8,305.4 L904.9,313.2 M904.9,314.8 L912.7,319.5 L917.4,318.7 L923.7,321 L931.5,316.4 L944,308.5 L959.7,300.7 L972.3,291.3 L981.7,277.2 L986.4,270.1 M967.6,261.5 L973.8,263.9 L981.7,261.5 L994.2,255.2 L1006.7,253.7 L1021.6,252.9 L1030.3,245.8 L1032.6,238 L1030.3,231.7 L1027.9,227 L1035,219.2 L1042.8,208.2 L1049,199.5"/>
<path d="M800.2,453.9 L802.4,454.5 L804.6,455.2 L804.7,457.4 L805,459.7 L803.3,461.7 L803.9,464 L802.3,466.1 L799.8,466.5 L797.7,467.7 L796.3,469.7 L797.3,472.3 L795.7,474.3 L795.2,476.5 L795,479.6 L795.2,482.8 L794.7,485.5 L792.9,487.3 L791.1,489.2 L790.2,491.6 L789.4,494.1 L788,496.5 L787.6,499.1 L788,501.4 L787.5,503.6 L787.5,505.8 L786.4,507.9 L784.7,509.9 L782.4,511.4 L781.4,514 L780,517.5 L778.9,519.6 L777.7,521.6 L777.5,524 L776,525.9 L776.3,528.5 L775,530.5 L773.8,532.5 L772.2,534.8 L770.8,537.3 L770,540 L768.8,542.9 L767.4,545.7 L768.7,547.7 L768.8,550 L769.3,552.1 L769.7,554.3 L769.7,556.6 L768.6,559.1 L769.3,562 L768.2,564.5 L768.4,567 L769.4,569.2 L771.8,570.8 L772.2,573.2 L772.9,575.5 L773.7,577.6 L775.3,579.3 L775.2,581.7 L773.8,583.9 L771.4,585.4 L770.5,588 L770.2,590.6 L768.4,592.6 L768.3,595.3 L766.6,597.4 L765.4,599.9 L763.7,602.3 L763.4,605.2 L763.2,608.5 L761.9,611.5 L763.3,614.1 L762.7,617" fill="none" stroke="#4a4a4a" stroke-width="2.3" stroke-linejoin="round" stroke-linecap="round"/>
<path d="M189.3,91 L190,97 L187.5,105 L190.6,112 L187,119.5 L186,127 L180,133.5 L172,135 L170.3,130.5 L173,124.5 L178,117.5 L182,111.5 L178,108 L181.5,103 L185,98 L187,93Z" fill="#4a4a4a" stroke="#4a4a4a" stroke-width="1.6" stroke-linejoin="round"/>
<path d="M174.5,127 L178,122.5 L181,123 L179,128 L175.5,129.5Z" fill="#E38B4B"/>
<path d="M178.5,92 L181,89.5 L184,91.5 L187,91 L186.5,98 L182,99.5 L179,97Z" fill="#4a4a4a" stroke="#4a4a4a" stroke-width="1.5" stroke-linejoin="round"/>
<circle cx="183.3" cy="85.1" r="1.1" fill="#4a4a4a"/>
<path d="M186,105 l1,3 M186.5,114 l0.8,2.2 M184,121 l1,1.5" stroke="#e8e8e8" stroke-width="1.1" stroke-linecap="round" fill="none"/>
<path d="M176.8,105.9 l-2,-1.6" stroke="#4a4a4a" stroke-width="2.4" stroke-linecap="round"/>
<path d="M150.2,130.5 l5,1.6 M150.5,133 l-0.6,4 M149.8,138.8 l4.8,1.4 M149,141 L148,146 L146.8,150 M148.5,151.6 l5,0.6" fill="none" stroke="#4a4a4a" stroke-width="2.3" stroke-linecap="round" stroke-linejoin="round"/>
<path d="M150.8,132 l1.5,0.5 M149.6,142.5 l-0.6,3 M149.5,151.8 l2.5,0.3" fill="none" stroke="#e8e8e8" stroke-width="1" stroke-linecap="round"/>
<path d="M115.4,372.8 L117.3,367.6 L118.75,365.7 L122.6,364.3 L123,368.1 L124.5,369.5 L127.8,368.1 L131.1,370.9 L134.9,369.5 L136.8,372.3 L139.7,373.3" fill="none" stroke="#4a4a4a" stroke-width="2.1" stroke-linejoin="round" stroke-linecap="round"/>
<path d="M116.6,372.5 L118.75,378.5 L120.7,383.25 L123.5,385.4 L121.6,380.4 L120.2,374.7 L118.5,371Z" fill="#fff" stroke="#4a4a4a" stroke-width="1.7" stroke-linejoin="round"/>
<circle cx="120" cy="368" r="1.3" fill="#fff"/>
<path d="M107,366 l1.8,-1.6 M102.1,370.4 L105.9,374.7" fill="none" stroke="#4a4a4a" stroke-width="1.8" stroke-linecap="round"/>
<path d="M134,483 l5,2 l6,1 M146,485 l6,1.5 M147,506 l2,2 M171,507 l2,3 l1,-2 M167.5,518 l1.5,5" fill="none" stroke="#4a4a4a" stroke-width="2" stroke-linecap="round"/>
<path d="M1093,308 L1096,303 L1105,299 L1115,294 L1124,290 L1133,284 L1130,288 L1122,292.5 L1112,298.5 L1104,303.5 L1097,307.5Z" fill="#76B3E0" stroke="#4a4a4a" stroke-width="1.5" stroke-linejoin="round"/>
<path d="M1150,270.5 l3,-1.2 l3.5,0.8 M1160.5,269 l3,-0.8 l3,1.2 M1141,268.5 l4,-3.5 l3,1" stroke="#4a4a4a" stroke-width="2" fill="none" stroke-linecap="round"/>
<path d="M1190.5,166.3 L1188.7,168.4 L1186.1,169.3 L1184,171 L1182.1,172.6 L1179.8,173.5 L1177.9,175 L1175.7,175.6 L1174.2,177.6 L1171.7,177.5 L1171.4,180 L1168.6,180.7 L1168,183 L1167.2,185.6 L1165.4,187.6 L1163.7,189.8 L1160.5,190 L1159.1,192.6 L1157.1,194 L1154.6,194.5 L1153,196.5 L1150.4,198.3 L1147.8,200.1 L1146.3,201.8 L1146,204.3 L1143.8,205.5 L1142.8,207.6" fill="none" stroke="#4a4a4a" stroke-width="3.4" stroke-linejoin="round" stroke-linecap="round"/>
<path d="M1192.7,168.5 L1190.3,169.7 L1187.9,171 L1186.2,173.2 L1183.6,173.7 L1181.4,174.7 L1180.1,177.2 L1177.7,177.3 L1175.5,177.6 L1173.9,179.7 L1173.9,182.4 L1171.5,183.4 L1170.2,185.2 L1167.7,186.8 L1167.6,189.8 L1165.2,191.1 L1162.6,192.1 L1161.3,194.8 L1159.9,197.1 L1157.3,197.5 L1155.2,198.7 L1153.1,201.2 L1150,202.3" fill="none" stroke="#4a4a4a" stroke-width="2" stroke-linejoin="round" stroke-dasharray="2.5 1.8"/>
<path d="M1186,172 l-2,-4 M1180,176 l-1,-5 M1172,180 l-3,-3 M1167,187 l-4,-2 M1161,193 l-3,-3 M1150,200 l-3,-3" fill="none" stroke="#4a4a4a" stroke-width="2.2" stroke-linecap="round"/>
<path d="M1056.5,356.3 C1056.7,357.7 1057,362.2 1057.5,364.5 C1058,366.8 1058.8,368.1 1059.5,370.1 C1060.2,372.1 1060.9,374.1 1062,376.4 C1063.1,378.7 1064.8,381.6 1066,383.9 C1067.2,386.2 1068.7,388 1069.5,390.2 C1070.3,392.4 1070.5,394.9 1070.8,397 C1071.1,399.1 1070.9,400.6 1071.5,403 C1072.1,405.4 1074,410.1 1074.5,411.5" fill="none" stroke="#4a4a4a" stroke-width="8" stroke-linejoin="round" stroke-linecap="round"/>
<path d="M1057.5,364.5 C1057.8,365.4 1058.8,368.1 1059.5,370.1 C1060.2,372.1 1060.9,374.1 1062,376.4 C1063.1,378.7 1064.8,381.6 1066,383.9 C1067.2,386.2 1068.7,388 1069.5,390.2 C1070.3,392.4 1070.5,394.9 1070.8,397 C1071.1,399.1 1071.4,402 1071.5,403" fill="none" stroke="#4a4a4a" stroke-width="12" stroke-linejoin="round" stroke-dasharray="2.2 2.4"/>
<path d="M1061,346 C1060.4,346.6 1058.2,347.8 1057.5,349.5 C1056.8,351.2 1056.7,355.2 1056.5,356.3" fill="none" stroke="#4a4a4a" stroke-width="5" stroke-linejoin="round" stroke-linecap="round"/>
<path d="M1064,350 L1062.6,353.8 L1061.3,360 L1062.6,366 L1067.6,367.6 L1065,371.4 L1069,375.8 L1074,380 L1075,387 L1076.4,391.4 M1068,370 l3,-4 M1071,377 l2,-5 M1055,350 l-3,3 M1054,358 l-3,2 M1055,365 l-3,3" fill="none" stroke="#4a4a4a" stroke-width="3.2" stroke-linejoin="round" stroke-linecap="round"/>
<path d="M1027.5,360 L1033,361.3 L1038.2,363.8 L1044.4,364.5 L1046.3,366.3 L1045,371.4 L1041.3,375.1 L1040.7,380.8" fill="none" stroke="#4a4a4a" stroke-width="1.8" stroke-linejoin="round"/>
<path d="M1040.7,380.8 L1045.7,378.9 L1052,381.4 L1058.2,384.5 L1064,385.2 M1045,385.8 L1050.7,388.3 L1057,391.4 L1062.6,395.2 L1067,397 M1051.3,400.3 L1058,402 L1065.1,404.4 L1070,405 M1048.2,408.5 L1055,409.5 L1061,411.5 L1067.6,414.5 L1073,413" fill="none" stroke="#4a4a4a" stroke-width="3" stroke-linejoin="round" stroke-linecap="round"/>
<path d="M1046,379.5 l6,2.5 M1052,389 l5,2.5" fill="none" stroke="#fff" stroke-width="0.9"/>
<path d="M1057.5,349.5 C1057.3,350.6 1056.5,353.8 1056.5,356.3 C1056.5,358.8 1057,362.2 1057.5,364.5 C1058,366.8 1058.8,368.1 1059.5,370.1 C1060.2,372.1 1061.6,375.3 1062,376.4" fill="none" stroke="#fff" stroke-width="1.8" stroke-linejoin="round"/>
<path d="M1062,376.4 C1062.7,377.6 1064.8,381.6 1066,383.9 C1067.2,386.2 1068.7,388 1069.5,390.2 C1070.3,392.4 1070.5,394.9 1070.8,397 C1071.1,399.1 1070.9,400.6 1071.5,403 C1072.1,405.4 1073.4,409.7 1074.5,411.5 C1075.6,413.3 1077.4,413.6 1078,414" fill="none" stroke="#fff" stroke-width="4.2" stroke-linejoin="round" stroke-linecap="round"/>
<path d="M1073.9,390 L1074.5,398 L1076.4,408.2 M1081.4,390 L1080,398 L1078,405 L1076.4,408.2" fill="none" stroke="#4a4a4a" stroke-width="2.2" stroke-linejoin="round"/>
<path d="M1067,440.7 L1070,438.5 L1073.9,438.2 L1078.9,434.4 L1082.6,433.2 L1087.7,435.7 L1091.4,440 L1094,445 L1096,453.8 L1093.3,456.4 L1088.9,459.5 L1084.5,464.5 L1080.1,462.6 L1078.3,458.9 L1076.4,454.5 L1080.1,455.1 L1084.5,452.6 L1087,448.2 L1090.2,445.7 L1089,441 L1085,437.5 L1080,437.5 L1077,440 L1072,441.5Z" fill="#fff" stroke="#4a4a4a" stroke-width="2" stroke-linejoin="round"/>
<path d="M1061.3,431.1 L1065.7,433.3 L1067,437.6 L1067.6,442 L1072,441 M1077,423 L1080,428 L1084,433 L1088,436 M1079,425 l-4,4 l-3,4 M1083,446 l2,-6 M1062,453 L1068,455 L1072,453.5 L1076.4,454.5 M1072,456 L1075,460 L1072,463 M1064,464 L1070,467 L1076,466 L1082,464 M1068,470 L1075,470 L1080,468 M1059,477 l2,4" fill="none" stroke="#4a4a4a" stroke-width="2.6" stroke-linejoin="round" stroke-linecap="round"/>
<path d="M1080,466 L1083,464 L1085,465 L1081,470 L1079.5,475 L1074,473 L1078,469Z" fill="#4a4a4a" stroke="#4a4a4a" stroke-width="1.5"/>
<path d="M1027.5,527.5 L1015,537.5 L1005,547.5 L999,556 L996,565 L993,575 L992,585 L991.5,595 L993,605 L994,612" fill="none" stroke="#4a4a4a" stroke-width="2.6" stroke-linejoin="round"/>
<path d="M992,597.6 L992,599.7 L991.7,601.8 L990.7,603.7 L990,605.7 L990.5,607.8 L990.5,609.8 L989.7,611.8 L989.4,613.8 L989.6,616.5 L990.6,618.8 L992,621 L991.9,623.1 L993.2,624.9 L993.1,627 L993.5,629 L994.7,631.2 L995.7,633.5 L996,636" fill="none" stroke="#4a4a4a" stroke-width="1.8" stroke-linejoin="round"/>
<circle cx="996.3" cy="636.5" r="1.3" fill="none" stroke="#4a4a4a" stroke-width="1"/>
<path d="M984,761 l2.5,-0.6 M1002.5,760 l1.5,-0.4" fill="none" stroke="#4a4a4a" stroke-width="2" stroke-linecap="round"/>
<path d="M1007,759.6 L1013,757.5 L1019,754.5 L1024.1,751.7" fill="none" stroke="#4a4a4a" stroke-width="2.6" stroke-linecap="round" stroke-dasharray="4 1.2"/>
<path d="M1026.8,751.7 L1031,748.5 L1034.6,745.2 L1039,740.5 L1043.8,734.6" fill="none" stroke="#4a4a4a" stroke-width="1.6" stroke-linecap="round" stroke-dasharray="3 1.8"/>
<path d="M974.2,672.9 L978,674 L983.4,678.1 L979.4,683.4 L982,690 M975,678 l3,4 M992.6,707 L996.5,711 L1000.5,705.7" fill="none" stroke="#4a4a4a" stroke-width="2.6" stroke-linejoin="round" stroke-linecap="round"/>
<path d="M978.5,679 l2,4.5" fill="none" stroke="#fff" stroke-width="1"/>
<path d="M1014.9,645.3 L1018,648 L1022.8,653.1 L1018.9,654.5 L1016.5,650Z" fill="#4a4a4a" stroke="#4a4a4a" stroke-width="1.6" stroke-linejoin="round"/>
<path d="M1024.1,737.3 L1030.7,741.2 L1037.3,738.6 L1043.8,732 L1045.8,726.8" fill="none" stroke="#4a4a4a" stroke-width="2.8" stroke-linejoin="round" stroke-linecap="round"/>
<path d="M1003.75,717.5 L1010,725 L1021,730 L1025,737.5" fill="none" stroke="#4a4a4a" stroke-width="2" stroke-linejoin="round"/>
<path d="M805,640 L807,643 L812,641 L815,640 L813,646 L811,652 L815,658 L820,660 L824.5,661.7 L819,666 L816,660 L810,657 L803,658.5 L798,652 L798,663 L790,664 L782,666.4 L773,661.7" fill="none" stroke="#4a4a4a" stroke-width="3" stroke-linejoin="round"/>
<path d="M808,651 L811,645 L814,641 L812,650Z M800,656 l4,2 l5,-1 M784,664 l6,-2 M815,650 l3,6" fill="#4a4a4a" stroke="#4a4a4a" stroke-width="2.5" stroke-linejoin="round"/>
<path d="M805,640 L810,636.6 L817,632 L826,628.7 L836,628.7" fill="none" stroke="#4a4a4a" stroke-width="2"/>
<path d="M799,640 L804,637 L809,638 L807,642 L802,643Z" fill="#fff" stroke="#4a4a4a" stroke-width="1.2"/>
<path d="M826,641 C829,648 828,655 822,660" fill="none" stroke="#4a4a4a" stroke-width="1.2" stroke-dasharray="3 2"/>
<path d="M843.4,628 L845,619.3 L847.3,620.1 L849.7,628.7Z" fill="#fff" stroke="#333333" stroke-width="1.4"/>
<path d="M856,626 L866,624 L876,622.5 L890,623.75 L900,627.5 L907.5,636 L915,638.75" fill="none" stroke="#4a4a4a" stroke-width="2.2" stroke-linejoin="round"/>
<path d="M687.6,659.5 L689.2,655.2 L692.8,653.6 L693.4,657.5 L691,660.5Z" fill="#fff" stroke="#4a4a4a" stroke-width="1.2"/>
<path d="M637.3,753.5 C637,752.1 636.5,748.2 635.8,745.1 C635.1,742 633.8,737.9 633.1,734.6 C632.4,731.3 631.9,728.2 631.8,725.4 C631.7,722.5 631.8,720.4 632.5,717.5 C633.2,714.6 634.2,711.4 635.8,708.3 C637.4,705.2 639.9,701.7 642.3,699.1 C644.7,696.5 647.4,694.8 650.2,692.6 C653.1,690.4 655.2,688.4 659.4,686 C663.6,683.6 670.8,680.7 675.2,678.1 C679.6,675.5 682.6,672.8 685.7,670.2 C688.8,667.6 692.3,663.6 693.6,662.3" fill="none" stroke="#4a4a4a" stroke-width="2.6" stroke-linejoin="round"/>
<path d="M636.3,751 C636.1,749.9 635.5,747.2 634.9,744.5 C634.2,741.8 633,737.5 632.4,734.6 C631.8,731.7 631.4,728.3 631.2,727" fill="none" stroke="#fff" stroke-width="0.9"/>
<path d="M629.5,721 l-3,-3.5 l3,1 M633,707.5 l-4.5,-2 l4,0 M637,702 l-3,-3.5 M640.5,697.5 l-2,-3 M648.5,691.5 l-3,-4 l3.5,1.5 M652,689.5 l1.5,-3.5" fill="none" stroke="#fff" stroke-width="1.7" stroke-linecap="round" stroke-linejoin="round"/>
<g clip-path="url(#ak)">
<rect x="0" y="540" width="420" height="340" fill="#E38B4B"/>
<path d="M224,790 L223.3,786.7 L222.3,782 L221.2,776.6 L220,770.7 L218.9,765.1 L218,760 L217.2,755.5 L216.3,751.1 L215.5,746.9 L214.9,742.8 L214.7,738.8 L215,735 L215.9,731.3 L217.2,727.9 L218.9,724.5 L220.8,721.3 L222.9,718.1 L225,715 L227.1,711.9 L229.4,708.7 L231.7,705.6 L234.3,702.7 L237,700 L240,697.5 L243.3,695.3 L246.8,693.4 L250.5,691.8 L254.4,690.2 L258.4,688.8 L262.5,687.5 L267.1,686.3 L272.3,685.1 L277.7,684.1 L282.7,683.3 L287,682.5 L290,682 L300,682 L300,540 L0,540 L0,880 L224,880Z" fill="#E7B168"/>
<path d="M85,793 L86.6,792.1 L88.7,790.8 L91.2,789.3 L94.1,787.8 L97,786.3 L100,785 L103,784 L106.3,783.2 L109.7,782.5 L113.1,781.8 L116.6,780.8 L120,779.5 L123.4,777.8 L126.9,775.8 L130.3,773.5 L133.7,771.2 L137,769 L140,767 L142.8,765.3 L145.4,763.7 L147.8,762.3 L150.2,760.8 L152.6,759 L155,757 L157.4,754.7 L159.8,752.3 L162.2,749.8 L164.6,746.9 L167.2,743.7 L170,740 L173.1,735.7 L176.4,730.8 L179.8,725.5 L183.3,720.1 L186.8,714.9 L190,710 L193.1,705.5 L196,701 L198.9,696.7 L201.8,692.6 L204.6,688.7 L207.5,685 L210.4,681.6 L213.3,678.3 L216.2,675.3 L219.2,672.5 L222.1,669.9 L225,667.5 L227.9,665.3 L230.8,663.3 L233.8,661.6 L236.7,660 L239.6,658.6 L242.5,657.5 L245.3,656.6 L248.1,655.9 L250.8,655.5 L253.6,655.2 L256.6,655.1 L260,655 L264,655.1 L268.7,655.4 L273.6,655.8 L278.2,656.3 L282.2,656.7 L285,657 L300,657 L300,540 L0,540 L0,796Z" fill="#AEAEAE"/>
<path d="M40,735 L41.8,734.6 L44.3,734.1 L47.2,733.5 L50.5,732.8 L53.9,732.1 L57.5,731.2 L61.2,730.4 L65.2,729.4 L69.4,728.4 L73.7,727.3 L78.1,726.1 L82.5,725 L87,723.9 L91.6,722.8 L96.2,721.6 L100.9,720.4 L105.5,719.1 L110,717.5 L114.4,715.8 L118.7,714 L123,712 L127.1,709.9 L131.2,707.6 L135,705 L138.6,702.1 L142,699 L145.3,695.6 L148.5,692.1 L151.7,688.6 L155,685 L158.3,681.3 L161.7,677.5 L165,673.6 L168.3,669.7 L171.7,666 L175,662.5 L178.3,659.2 L181.7,656 L185,653 L188.3,650.1 L191.7,647.4 L195,645 L198.3,642.8 L201.6,640.9 L204.8,639.1 L208.1,637.5 L211.5,636.2 L215,635 L218.6,634 L222.4,633.3 L226.2,632.7 L230.1,632.3 L233.9,632.1 L237.5,632 L240.9,632.1 L244.3,632.4 L247.5,632.9 L250.7,633.6 L254.1,634.3 L257.5,635 L261.4,635.9 L265.6,637 L270,638.2 L274.1,639.3 L277.5,640.3 L280,641 L300,641 L300,540 L0,540 L0,735Z" fill="#BFCCE5"/>
<path d="M100,585 L101.7,585.5 L104.1,586 L106.9,586.7 L109.8,587.6 L112.6,588.7 L115,590 L116.9,591.6 L118.6,593.6 L120.2,595.8 L121.7,598.1 L123.2,600.3 L125,602.5 L126.9,604.7 L128.8,607 L130.8,609.2 L132.9,611.4 L135.1,613.4 L137.5,615 L140.1,616.3 L142.9,617.4 L145.8,618.3 L148.8,619 L151.9,619.4 L155,619.5 L158.1,619.3 L161.3,618.7 L164.5,617.9 L167.9,617 L171.3,616 L175,615 L178.9,614 L183,612.9 L187.2,611.8 L191.5,610.6 L195.8,609.6 L200,608.8 L204.1,608 L208.1,607.4 L212.2,606.8 L216.3,606.4 L220.5,606.2 L225,606.2 L229.8,606.7 L235,607.4 L240.3,608.3 L245.6,609.3 L250.5,610.3 L255,611.2 L259.1,612.1 L263.1,613 L266.9,613.9 L270.2,614.8 L272.9,615.5 L275,616 L300,616 L300,540 L100,540Z" fill="#A1C0DF"/>
<path class="ct" d="M100,585 L101.7,585.5 L104.1,586 L106.9,586.7 L109.8,587.6 L112.6,588.7 L115,590 L116.9,591.6 L118.6,593.6 L120.2,595.8 L121.7,598.1 L123.2,600.3 L125,602.5 L126.9,604.7 L128.8,607 L130.8,609.2 L132.9,611.4 L135.1,613.4 L137.5,615 L140.1,616.3 L142.9,617.4 L145.8,618.3 L148.8,619 L151.9,619.4 L155,619.5 L158.1,619.3 L161.3,618.7 L164.5,617.9 L167.9,617 L171.3,616 L175,615 L178.9,614 L183,612.9 L187.2,611.8 L191.5,610.6 L195.8,609.6 L200,608.8 L204.1,608 L208.1,607.4 L212.2,606.8 L216.3,606.4 L220.5,606.2 L225,606.2 L229.8,606.7 L235,607.4 L240.3,608.3 L245.6,609.3 L250.5,610.3 L255,611.2 L259.1,612.1 L263.1,613 L266.9,613.9 L270.2,614.8 L272.9,615.5 L275,616"/>
<path class="ct" d="M40,735 L41.8,734.6 L44.3,734.1 L47.2,733.5 L50.5,732.8 L53.9,732.1 L57.5,731.2 L61.2,730.4 L65.2,729.4 L69.4,728.4 L73.7,727.3 L78.1,726.1 L82.5,725 L87,723.9 L91.6,722.8 L96.2,721.6 L100.9,720.4 L105.5,719.1 L110,717.5 L114.4,715.8 L118.7,714 L123,712 L127.1,709.9 L131.2,707.6 L135,705 L138.6,702.1 L142,699 L145.3,695.6 L148.5,692.1 L151.7,688.6 L155,685 L158.3,681.3 L161.7,677.5 L165,673.6 L168.3,669.7 L171.7,666 L175,662.5 L178.3,659.2 L181.7,656 L185,653 L188.3,650.1 L191.7,647.4 L195,645 L198.3,642.8 L201.6,640.9 L204.8,639.1 L208.1,637.5 L211.5,636.2 L215,635 L218.6,634 L222.4,633.3 L226.2,632.7 L230.1,632.3 L233.9,632.1 L237.5,632 L240.9,632.1 L244.3,632.4 L247.5,632.9 L250.7,633.6 L254.1,634.3 L257.5,635 L261.4,635.9 L265.6,637 L270,638.2 L274.1,639.3 L277.5,640.3 L280,641"/>
<path class="ct" d="M85,793 L86.6,792.1 L88.7,790.8 L91.2,789.3 L94.1,787.8 L97,786.3 L100,785 L103,784 L106.3,783.2 L109.7,782.5 L113.1,781.8 L116.6,780.8 L120,779.5 L123.4,777.8 L126.9,775.8 L130.3,773.5 L133.7,771.2 L137,769 L140,767 L142.8,765.3 L145.4,763.7 L147.8,762.3 L150.2,760.8 L152.6,759 L155,757 L157.4,754.7 L159.8,752.3 L162.2,749.8 L164.6,746.9 L167.2,743.7 L170,740 L173.1,735.7 L176.4,730.8 L179.8,725.5 L183.3,720.1 L186.8,714.9 L190,710 L193.1,705.5 L196,701 L198.9,696.7 L201.8,692.6 L204.6,688.7 L207.5,685 L210.4,681.6 L213.3,678.3 L216.2,675.3 L219.2,672.5 L222.1,669.9 L225,667.5 L227.9,665.3 L230.8,663.3 L233.8,661.6 L236.7,660 L239.6,658.6 L242.5,657.5 L245.3,656.6 L248.1,655.9 L250.8,655.5 L253.6,655.2 L256.6,655.1 L260,655 L264,655.1 L268.7,655.4 L273.6,655.8 L278.2,656.3 L282.2,656.7 L285,657"/>
<path class="ct" d="M224,790 L223.3,786.7 L222.3,782 L221.2,776.6 L220,770.7 L218.9,765.1 L218,760 L217.2,755.5 L216.3,751.1 L215.5,746.9 L214.9,742.8 L214.7,738.8 L215,735 L215.9,731.3 L217.2,727.9 L218.9,724.5 L220.8,721.3 L222.9,718.1 L225,715 L227.1,711.9 L229.4,708.7 L231.7,705.6 L234.3,702.7 L237,700 L240,697.5 L243.3,695.3 L246.8,693.4 L250.5,691.8 L254.4,690.2 L258.4,688.8 L262.5,687.5 L267.1,686.3 L272.3,685.1 L277.7,684.1 L282.7,683.3 L287,682.5 L290,682"/>
</g>
<path d="M157.5,568 L160,570.3 L162.5,572.7 L165,575 L167.4,576.3 L170,576.8 L172.5,577.8 L175,578.8 L177.5,580.3 L180.2,581.5 L182.5,583.3 L184.9,584.9 L187.5,586.2 L205,587.5 L207.4,588.6 L210.1,588.8 L212.6,589.8 L215.1,590.4 L217.4,592 L220,592.5 L237.5,593.8 L253.8,600 L271.5,767 L274.2,767.4 L276.9,767 L279.6,768.2 L282.3,768.5 L285,768.2 L287.6,767.1 L290,765.8 L290.7,768.7 L292,771.5 L292.5,774.5 L294.9,775.8 L296.6,777.9 L299,779.2 L301,780.9 L303.1,782.6 L305,784.5 L307.7,785.3 L310,787 L323.8,770.8 L326.9,772.6 L330,774.5 L331.7,776.5 L333.1,778.9 L335,780.8 L336.6,782.9 L338.3,784.9 L340,787 L352.5,802 L365,814.5 L367.4,815.9 L370,817 L372.6,818.1 L374.8,819.9 L377.3,821.2 L380,822 L383.3,823.2 L386.6,823.9 L390,824.5 L390.9,826.9 L391.8,829.4 L392.5,831.9 L393.4,834.4 L393.8,837 L392.7,839.4 L392.3,842 L391.2,844.4 L390.9,847 L390,849.5 L386.8,848.2 L383.4,847.5 L380,847 L377.8,849.3 L375.2,851 L372.3,852.3 L370,854.5 L367.5,853.3 L365.2,851.6 L362.5,850.8 L360,849.5 L358,847.7 L356.8,845.3 L355.2,843.1 L353.2,841.3 L351.3,839.3 L350,837 L347.9,835.1 L346.3,832.7 L344.2,830.8 L341.7,829.3 L340,827 L327.5,814.5 L317.5,799.5 L314.9,798.5 L312.3,797.4 L309.8,796.1 L307.5,794.5 L305.2,792.4 L302.3,791 L300,788.8 L297.5,787 L295,785.5 L292.3,784.3 L290.1,782.3 L287.3,781.3 L285,779.5 L282.5,778.5 L279.9,778.2 L277.5,777.1 L274.9,776.4 L272.4,775.6 L270,774.5 L266.3,773.7 L262.5,773.8 L259.3,773.8 L256.3,774.6 L253.1,774.3 L250,775 L247.4,774 L245,772.6 L242.7,770.9 L240,770 L225,762 L223.2,764.4 L222,767.2 L220,769.5 L217.7,771.7 L216.5,774.7 L214.6,777.1 L212.5,779.5 L212.8,776.4 L212.3,773.2 L212.3,770.1 L212.5,767 L209.7,764.8 L207.5,762 L207.9,765.3 L207.4,768.7 L207.5,772 L205.1,773.9 L202.4,775.2 L200,777 L197.6,778.6 L195,780 L192.3,781.1 L190,783 L187.5,784.5 L185,785.4 L182.4,786.2 L180.1,787.8 L177.6,788.8 L175,789.5 L175.4,786.2 L175.3,782.8 L175,779.5 L175.8,776.9 L176.7,774.4 L178.2,772.1 L179.4,769.7 L180,767 L182.3,764.9 L185.3,763.6 L187.7,761.7 L190,759.5 L192,757.4 L193.7,755.1 L195.3,752.7 L197.5,750.8 L195.2,752.1 L192.3,752.2 L190.1,753.8 L187.5,754.5 L184.9,755.8 L182.6,757.7 L179.8,758.7 L177.5,760.4 L175,762 L173.3,764.8 L171.5,767.5 L169.4,770 L167.3,772.7 L165.6,775.6 L164,777.8 L162,779.5 L159.9,781.2 L158.1,783.1 L156,785.4 L154.3,788 L152.5,790.6 L154.5,792.3 L155.9,794.7 L158.1,796.2 L157.1,798.9 L156.1,801.5 L154.4,803.8 L152.2,805.8 L149.7,807.5 L147.6,809.7 L145,811.2 L142.3,813 L139.4,814.2 L136.5,815.4 L133.8,816.9 L132.1,819 L130.1,820.7 L127.8,822.2 L126.2,824.4 L123.2,825.4 L120.6,827.1 L117.7,828.4 L115,830 L112.7,831.4 L110.7,833.3 L108.5,834.9 L106.3,836.4 L103.8,837.5 L101.1,838 L98.7,839.2 L96.1,839.9 L93.9,841.7 L91.2,842 L88.8,843.1 L85,844.1 L81.2,845 L64.4,850.6 L60.7,850.4 L56.9,850.6 L54.5,852.6 L51.6,854 L49.4,856.2 L46.6,856.8 L43.8,856.5 L40.9,856.5 L38.1,856.5 L35.3,856.8 L32.5,857.2 L29,859 L30.9,856.8 L32.5,854.4 L35.5,852.7 L38.1,850.6 L41.3,850.7 L44.4,849.9 L47.5,849.7 L50.4,848.5 L53.1,846.9 L55.8,846 L58.3,844.7 L60.6,843.1 L63.4,841.8 L66.4,841 L69.2,839.9 L71.9,838.4 L75.6,839 L79.4,839.4 L81.3,837.6 L83.1,835.6 L85.4,834.1 L87.8,832.9 L90.2,831.5 L92.5,830 L95.1,828.2 L98.2,827.3 L101.2,826.2 L103.8,824.4 L106.2,823.2 L108.4,821.6 L110.4,819.8 L112.9,818.6 L115,816.9 L115.8,814.3 L116.4,811.6 L117.6,809.1 L117.6,806.3 L118.8,803.8 L120.4,801 L121.2,797.9 L123.1,795.4 L124.4,792.5 L121.3,793.2 L118.2,794 L115,794.4 L113.3,791.5 L111.2,788.8 L110,791.8 L108.6,794.9 L107.5,798 L103.8,796.2 L103.2,793.3 L101.6,790.7 L100.5,788 L100,785 L97.2,785.9 L94.3,786.2 L91.6,787.4 L88.8,787.8 L85.7,788.4 L82.6,787.9 L79.6,788.4 L76.6,788.8 L81.2,786.9 L80.7,783.2 L80.3,779.4 L81.6,776.4 L82,773.1 L83.1,770 L80.4,768.4 L77.5,767 L74.3,766.7 L71.2,765.8 L68.2,764.8 L65,764.5 L64.6,761.9 L63.7,759.4 L62.4,757 L61.7,754.5 L60.7,752.1 L60,749.5 L59.6,746.3 L60,743.2 L60,740 L59.1,737.3 L57.8,734.8 L56.4,732.4 L55,730 L56.7,727.7 L57.3,724.9 L58.8,722.5 L60.8,720.1 L63.2,718.2 L65.3,716 L67.7,714 L69.1,711.4 L71,709 L72.7,706.6 L75.9,704.9 L79,702.9 L81.1,704.6 L83.2,706.1 L85.2,707.9 L87.6,706.6 L89.9,705.1 L91.8,703.1 L94,701.6 L96.9,701.2 L99.9,701.1 L102.8,701.6 L104.8,699.7 L105.8,697.1 L107.8,695.3 L107.2,692.3 L106.2,689.5 L105.3,686.6 L107.7,684.5 L110.3,682.8 L109.1,678.4 L105.3,679.7 L101.5,680.3 L97.8,681.5 L95.6,683.5 L92.8,684.7 L90,682.5 L87.7,679.7 L84.4,679.9 L81.1,680.6 L77.7,680.3 L75.3,678.8 L72.6,678 L70,676.9 L67.7,675.3 L66.6,672 L66.6,668.5 L65.8,665.2 L70.2,662.7 L67.7,661.5 L65.2,660.2 L63.4,657.4 L61.5,654.7 L59.5,652.1 L62.3,651.3 L65.1,650.4 L67.7,648.9 L70.3,648.1 L72.6,646.6 L75.2,645.9 L77.6,644.6 L80.2,643.9 L83.3,643.3 L86.5,643.6 L89.7,643.7 L92.8,643.3 L96.5,645.2 L94.9,648.5 L92.8,651.4 L95.4,652 L97.8,652.9 L100.3,653.9 L102.7,655 L105.3,655.7 L107.8,656.5 L111,656 L114.1,655.2 L112.8,652.7 L111.8,650.1 L110.2,647.7 L109.1,645.2 L111.2,643.5 L112.8,641.4 L110.3,638.9 L107.2,637.9 L104,637.6 L101.3,636.1 L99,633.9 L98.5,631.2 L97.4,628.8 L95.9,626.5 L95.3,623.9 L93.4,621.4 L91.6,618.8 L89.9,616.1 L87.7,613.8 L85.9,611.8 L84.4,609.6 L82.7,607.6 L85.4,606.6 L87.7,605 L89,600 L91.8,600.8 L94.6,601.4 L97.5,601.4 L100.3,601.9 L103.3,600.6 L106,598.7 L109.1,597.5 L110.5,595.1 L111.9,592.6 L112.8,590 L115,588.8 L117.6,587.3 L120.1,585.8 L122.3,583.8 L125,582.5 L127.6,581.9 L130.2,580.9 L132.7,579.9 L135,578.5 L137.5,577.5 L140.1,576.8 L142.4,575.3 L145.2,574.9 L147.6,573.8 L150,572.5 L152.4,570.9 L154.8,569.1Z" fill="none" stroke="#262626" stroke-width="1.25" stroke-linejoin="round"/>
<path d="M143.1,822.5 L152.5,815 L161.9,807.5 L167.5,800.9 L173.1,809.4 L167.5,816.9 L167.5,824.4 L158.1,830 L148.8,835.6 L141.2,839.4 L146.9,831.9 L144.1,826.2Z" fill="#E7B168" class="st"/>
<path d="M22.5,675.9 L19.4,680.3 L22.5,684 L28.8,684 L33.2,694.1 L40.1,694.1 L42.6,691.6 L35.1,687.8 L32.6,680.3 L26.3,679.7Z" fill="#BFCCE5" stroke="#2a2a2a" stroke-width="1.3" stroke-linejoin="round"/>
<path d="M36.2,750 L47.5,748.8 L52.5,755 L45,760 L38.8,755Z" fill="#AEAEAE" stroke="#333333" stroke-width="1.4"/>
<path d="M143.1,822.5 L152.5,815 L161.9,807.5 L167.5,800.9 L173.1,809.4 L167.5,816.9 L167.5,824.4 L158.1,830 L148.75,835.6 L141.25,839.4 M150,824 l9,-5 M154,829 l9,-6 M158,812 l8,1 M147,828 l6,-1 M163,806 l5,5" fill="none" stroke="#4a4a4a" stroke-width="3" stroke-linejoin="round" stroke-linecap="round"/>
<path d="M120.6,842 l0.4,2.5 M130.9,849.2 l0.6,1 M169.4,796 l1,0.6 M224.7,787.5 l0.5,0.6" fill="none" stroke="#4a4a4a" stroke-width="2.4" stroke-linecap="round"/>
<path d="M79,850 l5,3 l4,-2 l3,5 l-3,4 M84,858 l5,3 M53,853 l4,3 l5,-1 l3,4 M56,861 l3,2 M64,856 l4,3 M28,859 l-8,2 l-7,2.5 M12,862 l10,-3" fill="none" stroke="#4a4a4a" stroke-width="2.8" stroke-linecap="round" stroke-linejoin="round"/>
<path d="M32.5,857.2 L49.4,856.25 L56.9,850.6 L64.4,850.6 L81.25,845 L88.75,843.1 L103.75,837.5 L115,830 L126.25,824.4 L133.75,816.9 L145,811.25 L154.4,803.75" fill="none" stroke="#4a4a4a" stroke-width="2.2" stroke-linejoin="round"/>
<path d="M85,790 l3,1.5 M92,791.5 l2,1.5 M96,794 l1,1" stroke="#4a4a4a" stroke-width="1.8" fill="none" stroke-linecap="round"/>
<path d="M207.5,762 L207.5,772 L212.5,767 L212.5,779.5 L216,772 L220,769.5 L225,762 L229,766 M205,768 l3,6 M214,760 l4,4" fill="none" stroke="#4a4a4a" stroke-width="3" stroke-linejoin="round"/>
<path d="M175,789.5 L182,786 L190,783 L200,777 L207,772" fill="none" stroke="#4a4a4a" stroke-width="2.4"/>
<path d="M312,789 L320,798 L328,806 L336,814 L346,824 L356,834 L364,844 L372,852 M322,790 L330,800 L340,810 L350,822 L360,832 L368,842 L376,848 M330,782 L338,794 L348,806 L358,818 L368,828 L378,838 L384,846 M340,800 l4,10 M352,812 l3,12 M362,826 l4,12 M372,834 l6,10 M326,796 l8,6 M344,816 l10,4 M356,826 l10,6 M366,838 l10,4 M318,800 L327.5,814.5 L340,827 L350,837 L360,849.5 L370,854.5 L380,847 L390,849.5" fill="none" stroke="#4a4a4a" stroke-width="2.4" stroke-linejoin="round" stroke-linecap="round"/>
<path d="M336,800 L342,812 L346,826 M350,806 L356,814" fill="none" stroke="#fff" stroke-width="1"/>
<path d="M292,776 l4,6 l6,4 M282,771 l4,5 M270,774.5 L285,779.5 L297.5,787 L307.5,794.5" fill="none" stroke="#4a4a4a" stroke-width="2.2"/>
<path d="M314,792 l5,9 l6,-2 l4,10 l7,-1 l3,10 l8,1 l2,9 l8,2 l3,9 l7,2 M322,806 l-3,-8 M333,818 l-4,-9 M343,829 l-3,-10 M353,840 l-3,-10 M363,849 l-2,-9 M372,853 l-1,-8 M378,846 l4,-7 M368,836 l6,-4 M358,826 l6,-5 M348,816 l5,-6 M338,806 l5,-6 M329,797 l4,-6" fill="none" stroke="#4a4a4a" stroke-width="2.2" stroke-linejoin="round" stroke-linecap="round"/>
<path d="M53.9,647.5 l0.5,0.5 M56.4,664 l0.5,0.3" stroke="#4a4a4a" stroke-width="1.6" stroke-linecap="round"/>
<g fill="#E38B4B" stroke="#333333" stroke-width="1.5" stroke-linejoin="round">
<path d="M20,893 L26,892 L31,895 L34,899 L29,899.5 L24,897Z"/>
<path d="M30,911 L37,911 L35,914.5 L32,913Z"/>
<path d="M41,904.5 L45,907 L44,907.5Z"/>
<path d="M90,944 L95,941 L99,940 L100,944 L94,946Z"/>
<path d="M106,944.5 L109,946 L113.5,949.5 L110,949Z"/>
<path d="M112.5,957 L116,958 L121,964 L125,968 L122,968 L116,963Z"/>
<path d="M130,952.5 L132.5,950 L135,952.5 L132.5,955Z"/>
<path d="M150,975 L152,973 L153.7,975 L152,977Z"/>
<path d="M169,962 L173,963 L176,967 L183,966 L187.5,968 L184,971 L176,970.5 L171,969Z"/>
<path d="M189,973 L192,968 L198,967 L204,964.5 L207,968 L212.5,969 L208,972 L200,973 L193,974.5Z"/>
<path d="M220,967 L230,966 L236,963 L240,960 L243,962 L243,966 L252,968 L261,970 L252,971 L240,969 L228,968.5Z"/>
<path d="M266,965 L269,963 L272.5,965 L269,967Z"/>
<path d="M290,962 L292,960.7 L293.7,962 L292,963.2Z"/>
<path d="M298.7,959 L301,957 L303.7,959 L301,960.7Z"/>
<path d="M311,955 L314,951 L318,949 L320,952 L317,956 L312,957Z"/>
<path d="M326,957 L330,954 L334,952 L333,955 L329,957.5Z"/>
<path d="M334,951 L336,946 L340,943 L342.5,945 L340,949 L336,952Z"/>
<path d="M341,942 L344,937 L349,936 L351,939 L347,943Z"/>
<path d="M351,944 L356,941 L362,939 L365,937 L364,940 L357,943.5Z"/>
<path d="M364,929 L368,925 L374,924.5 L377,928 L382,927 L381,932 L376,936 L371,939 L366,939.5 L365,934Z"/>
<path d="M380,921 L384,917.5 L389,917 L392,920 L387,923 L382,923Z"/>
<path d="M392.5,921 L398,919.5 L403.7,918 L402,921 L396,922Z"/>
<path d="M407.5,899 L404,903 L400.5,907 L402,911 L407.5,912Z"/>
</g>
<path d="M71,925.5 l0.6,0.6 M157.5,962 l0.5,0.5 M152,970 l1,0.5 M158,968 l1,0.5 M218,961 l1,0 M224,962 l1,0" stroke="#4a4a4a" stroke-width="2" stroke-linecap="round"/>
<path d="M325,900.75 L365,928.25" stroke="#222" stroke-width="1.3"/>
<g fill="#DC5630" stroke="#2b2b2b" stroke-width="1.5" stroke-linejoin="round">
<path d="M445,785 C444.7,783.3 446.7,779.4 448,778 C449.3,776.6 452.6,775.2 455,774.5 C457.4,773.8 463.5,773.1 466,773 C468.5,772.9 472.5,773.1 474,774 C475.5,774.9 477.2,778 477.5,780 C477.8,782 476.7,787 476,789 C475.3,791 473.5,793.9 472,795 C470.5,796.1 466.9,797 465,797 C463.1,797 460,795.8 458,795 C456,794.2 451.7,792.3 450,791 C448.3,789.7 445.3,786.7 445,785Z"/>
<path d="M417,806 C416.9,804.7 418.1,800.5 419,799 C419.9,797.5 423.1,795.9 424,795 C424.9,794.1 425.4,792.1 426,792 C426.6,791.9 428.4,792.9 428.5,794 C428.6,795.1 427.9,798.7 427,800 C426.1,801.3 423,802.8 422,804 C421,805.2 420.2,808.7 419.5,809 C418.8,809.3 417.1,807.3 417,806Z"/>
<path d="M548.8,809 C549.6,807.5 557.7,807.3 560,805.8 C562.3,804.2 564.6,798 566.2,797.5 C567.9,797 570.7,799.7 572.5,802 C574.3,804.3 578.2,812.8 580,814.5 C581.8,816.2 584.5,813.4 586,814.5 C587.5,815.6 591.5,821.3 591,823 C590.5,824.7 584.6,827 582.5,827 C580.4,827 577.9,823 575,823 C572.1,823 563.8,827.8 561,827 C558.2,826.2 555.4,819.4 553.8,817 C552.1,814.6 547.9,810.5 548.8,809Z"/>
<path d="M616,834.5 C615.5,833.4 615.9,828.2 618.8,827 C621.6,825.8 632.7,825.9 637.5,825.8 C642.3,825.6 653.3,824.9 655,825.8 C656.7,826.6 652.7,830.9 650,832 C647.3,833.1 638.7,833.6 635,834 C631.3,834.4 625,834.9 622.5,835 C620,835.1 616.5,835.6 616,834.5Z"/>
<path d="M634.5,845.8 C635.2,844.7 640.3,843.7 642.5,844 C644.7,844.3 650,846.6 651,848 C652,849.4 651.1,853.3 650,854.5 C648.9,855.7 644.2,857.3 642.5,857 C640.8,856.7 638.6,853.5 637.5,852 C636.4,850.5 633.8,846.8 634.5,845.8Z"/>
<path d="M658.8,838 C659.3,836.3 663.2,833.6 665,834 C666.8,834.4 669.8,840.4 672.5,840.8 C675.2,841.1 681.7,836.8 685,837 C688.3,837.2 694.6,840.5 697.5,842 C700.4,843.5 706.3,846.2 707,848 C707.7,849.8 704.8,854 702.5,855.8 C700.2,857.5 693,860.5 690,861.5 C687,862.5 682,864.3 680,863 C678,861.7 676.3,853.7 675,852 C673.7,850.3 671.9,850.7 670,850 C668.1,849.3 662.5,848.6 661,847 C659.5,845.4 658.2,839.7 658.8,838Z"/>
<path d="M661,868 C661.7,866.9 668.5,863 670,863 C671.5,863 673.2,866.9 672.5,868 C671.8,869.1 666.5,871 665,871 C663.5,871 660.3,869.1 661,868Z"/>
<path d="M717.5,882 C718.5,880.9 722,880.7 725,881.5 C728,882.3 735.3,886.6 740,888 C744.7,889.4 755.5,890.3 760,892 C764.5,893.7 771.6,898.2 773.8,900.8 C775.9,903.2 774.8,909.2 776,910.8 C777.2,912.2 781.3,911 782.5,912 C783.7,913 783.2,916.3 785,918 C786.8,919.7 795.4,922 795.8,924.5 C796.1,927 790.6,934.3 787.5,937 C784.4,939.7 776.2,942.2 772.5,944.5 C768.8,946.8 763,952.2 760,954.5 C757,956.8 752.2,959.5 750,962 C747.8,964.5 746.8,972.5 743.8,973 C740.8,973.5 729.9,969.2 727.5,965.8 C725.1,962.3 727.3,951.8 726,947 C724.7,942.2 719.5,933.2 717.5,929.5 C715.5,925.8 711.7,921.5 711,919.5 C710.3,917.5 711.3,915.8 712.5,914.5 C713.7,913.2 718.7,911.5 720,909.5 C721.3,907.5 722.8,902.2 722.5,899.5 C722.2,896.8 718.2,891.8 717.5,889.5 C716.8,887.2 716.5,883.1 717.5,882Z"/>
</g>
<path d="M725.5,832.5 V881.5" stroke="#222" stroke-width="1.3"/>
<path d="M11.5,548.5 H233.75 L407.5,764.5 H803 V985.75 H11.5Z M11.5,881 H407.5 M407.5,764.5 V985.75" fill="none" stroke="#111" stroke-width="1.6"/>
<text class="lab" x="1092" y="276.5" text-anchor="middle" >Below</text>
<text class="lab" x="960" y="512.5" text-anchor="middle" >Near</text>
<text class="lab" x="960" y="538" text-anchor="middle" >Normal</text>
<text class="lab" x="615.5" y="607" text-anchor="middle" >Above</text>
<text class="lab" x="1017" y="702.5" text-anchor="middle" >Below</text>
<text class="lab" x="173.5" y="605" text-anchor="middle" >Below</text>
<text class="lab" x="132" y="726.5" text-anchor="middle" >Near</text>
<text class="lab" x="132" y="752" text-anchor="middle" >Normal</text>
<text class="lab" x="238" y="755.5" text-anchor="middle" >Above</text>
<text x="155" y="898.3" font-weight="bold" font-size="11.8" fill="#222" textLength="98" lengthAdjust="spacingAndGlyphs">Aleutian Islands</text>
<text x="266.5" y="907" font-size="15" fill="#111" stroke="#111" stroke-width="0.35" textLength="48.5" lengthAdjust="spacingAndGlyphs">Above</text>
<text x="736" y="837.8" font-size="14.6" fill="#111" stroke="#111" stroke-width="0.4" textLength="48" lengthAdjust="spacingAndGlyphs">Above</text>
<text x="1041.5" y="787.5" text-anchor="middle" font-weight="bold" font-size="19" fill="#222">Probability</text>
<text x="1041.5" y="809.6" text-anchor="middle" font-weight="bold" font-size="19" fill="#222">(Percent Chance)</text>
<text x="955" y="833.6" text-anchor="middle" font-weight="bold" font-size="15.8" fill="#222">Above Normal</text>
<text x="1128" y="833.6" text-anchor="middle" font-weight="bold" font-size="15.8" fill="#222">Below Normal</text>
<text x="1041.5" y="860" text-anchor="middle" font-weight="bold" font-size="15.5" fill="#222">Near</text>
<text x="1041.5" y="878" text-anchor="middle" font-weight="bold" font-size="15.5" fill="#222">Normal</text>
<rect x="1025.6" y="886.7" width="31.6" height="14.8" fill="#A0A0A0"/>
<rect x="902" y="842.4" width="31" height="15.2" fill="#E7B168" stroke="#c69859" stroke-width="0.8"/>
<rect x="1148" y="842.4" width="31" height="15.2" fill="#BFCCE5" stroke="#a4afc4" stroke-width="0.8"/>
<text class="lg" x="938" y="854.7" textLength="47.3" lengthAdjust="spacingAndGlyphs">33-40%</text>
<text class="lg" x="1095.3" y="854.7" textLength="47.3" lengthAdjust="spacingAndGlyphs">33-40%</text>
<rect x="902" y="862.6" width="31" height="15.2" fill="#E38B4B" stroke="#c37740" stroke-width="0.8"/>
<rect x="1148" y="862.6" width="31" height="15.2" fill="#A1C0DF" stroke="#8aa5bf" stroke-width="0.8"/>
<text class="lg" x="938" y="874.9" textLength="47.3" lengthAdjust="spacingAndGlyphs">40-50%</text>
<text class="lg" x="1095.3" y="874.9" textLength="47.3" lengthAdjust="spacingAndGlyphs">40-50%</text>
<rect x="902" y="882.8" width="31" height="15.2" fill="#DC5630" stroke="#bd4929" stroke-width="0.8"/>
<rect x="1148" y="882.8" width="31" height="15.2" fill="#76B3E0" stroke="#6599c0" stroke-width="0.8"/>
<text class="lg" x="938" y="895.1" textLength="47.3" lengthAdjust="spacingAndGlyphs">50-60%</text>
<text class="lg" x="1095.3" y="895.1" textLength="47.3" lengthAdjust="spacingAndGlyphs">50-60%</text>
<rect x="902" y="903" width="31" height="15.2" fill="#CB3B1C" stroke="#ae3218" stroke-width="0.8"/>
<rect x="1148" y="903" width="31" height="15.2" fill="#2E9BD7" stroke="#2785b8" stroke-width="0.8"/>
<text class="lg" x="938" y="915.3" textLength="47.3" lengthAdjust="spacingAndGlyphs">60-70%</text>
<text class="lg" x="1095.3" y="915.3" textLength="47.3" lengthAdjust="spacingAndGlyphs">60-70%</text>
<rect x="902" y="923.2" width="31" height="15.2" fill="#BA2C06" stroke="#9f2505" stroke-width="0.8"/>
<rect x="1148" y="923.2" width="31" height="15.2" fill="#0A5CA6" stroke="#084f8e" stroke-width="0.8"/>
<text class="lg" x="938" y="935.5" textLength="47.3" lengthAdjust="spacingAndGlyphs">70-80%</text>
<text class="lg" x="1095.3" y="935.5" textLength="47.3" lengthAdjust="spacingAndGlyphs">70-80%</text>
<rect x="902" y="943.6" width="31" height="15.2" fill="#8E2306" stroke="#7a1e05" stroke-width="0.8"/>
<rect x="1148" y="943.6" width="31" height="15.2" fill="#2A1C78" stroke="#241867" stroke-width="0.8"/>
<text class="lg" x="938" y="955.9" textLength="47.3" lengthAdjust="spacingAndGlyphs">80-90%</text>
<text class="lg" x="1095.3" y="955.9" textLength="47.3" lengthAdjust="spacingAndGlyphs">80-90%</text>
<rect x="902" y="963.9" width="31" height="15.2" fill="#691D04" stroke="#5a1803" stroke-width="0.8"/>
<rect x="1148" y="963.9" width="31" height="15.2" fill="#1E1650" stroke="#191244" stroke-width="0.8"/>
<text class="lg" x="938" y="976.2" textLength="55" lengthAdjust="spacingAndGlyphs">90-100%</text>
<text class="lg" x="1087.6" y="976.2" textLength="55" lengthAdjust="spacingAndGlyphs">90-100%</text>
<text class="lg" x="848" y="854.7" text-anchor="middle" font-size="14">Leaning</text>
<text class="lg" x="848" y="872" text-anchor="middle" font-size="14">Above</text>
<text class="lg" x="848" y="928.2" text-anchor="middle" font-size="14">Likely</text>
<text class="lg" x="848" y="945.5" text-anchor="middle" font-size="14">Above</text>
<text class="lg" x="1234.5" y="854.7" text-anchor="middle" font-size="14">Leaning</text>
<text class="lg" x="1234.5" y="872" text-anchor="middle" font-size="14">Below</text>
<text class="lg" x="1234.5" y="928.2" text-anchor="middle" font-size="14">Likely</text>
<text class="lg" x="1234.5" y="945.5" text-anchor="middle" font-size="14">Below</text>
<path d="M899.4,841.5 C879.6,841.5 900.7,860 876,860 C900.7,860 879.6,878.3 899.4,878.3" fill="none" stroke="#333" stroke-width="1"/>
<path d="M899.8,881.2 C879.3,881.2 901.1,930 875.5,930 C901.1,930 879.3,979.6 899.8,979.6" fill="none" stroke="#333" stroke-width="1"/>
<path d="M1179.8,841.5 C1203,841.5 1178.2,860 1207.3,860 C1178.2,860 1203,878.3 1179.8,878.3" fill="none" stroke="#333" stroke-width="1"/>
<path d="M1179.8,881.2 C1203,881.2 1178.2,930 1207.3,930 C1178.2,930 1203,979.6 1179.8,979.6" fill="none" stroke="#333" stroke-width="1"/>
<text x="244" y="51.9" font-size="58.3" fill="#111" textLength="792" lengthAdjust="spacingAndGlyphs">8-14 Day Temperature Outlook</text>
<text x="489" y="89.8" font-size="26.6" font-weight="bold" fill="#111" textLength="73.6" lengthAdjust="spacingAndGlyphs">Valid:</text>
<text x="580.4" y="89.8" font-size="26" fill="#111" textLength="246.6" lengthAdjust="spacingAndGlyphs">February 9 - 15, 2026</text>
<text x="489" y="120.5" font-size="26.6" font-weight="bold" fill="#111" textLength="96.3" lengthAdjust="spacingAndGlyphs">Issued:</text>
<text x="602.4" y="120.5" font-size="26" fill="#111" textLength="193.6" lengthAdjust="spacingAndGlyphs">February 1, 2026</text>
<circle cx="58.4" cy="45.9" r="33" fill="#2196D3"/>
<circle cx="58.4" cy="45.9" r="25.2" fill="#fff"/>
<defs><path id="arcT" d="M31.2,45.9 A27.2,27.2 0 0 1 85.6,45.9"/><path id="arcB" d="M27.6,45.9 A30.8,30.8 0 0 0 89.2,45.9"/></defs>
<text font-size="5.3" font-weight="bold" fill="#fff" letter-spacing="0.05"><textPath href="#arcT" startOffset="50%" text-anchor="middle">DEPARTMENT OF COMMERCE</textPath></text>
<text font-size="5.4" font-weight="bold" fill="#fff" letter-spacing="0.05"><textPath href="#arcB" startOffset="50%" text-anchor="middle">UNITED STATES OF AMERICA</textPath></text>
<circle cx="29.2" cy="46.2" r="0.9" fill="#fff"/><circle cx="87.6" cy="46.2" r="0.9" fill="#fff"/>
<path d="M44.2,40.6 H72.6 L71.6,42.2 V62 Q71,65 58.4,70 Q45.8,65 45.2,62 V42.2Z" fill="#E0B62B"/>
<path d="M44.2,40.6 H72.6 L71.6,42.2 V53.2 H45.2 V42.2Z" fill="#2196D3"/>
<path d="M44.2,40.6 H72.6 L71.6,42.2 V62 Q71,65 58.4,70 Q45.8,65 45.2,62 V42.2Z" fill="none" stroke="#1b6fa6" stroke-width="0.7"/>
<path d="M49.5,48.6 L55,44.2 H64 L66.5,50.3 H53Z" fill="#fff"/><path d="M52,48.4 h13" stroke="#2196D3" stroke-width="0.6"/>
<path d="M58.4,54.5 V68.5" stroke="#8a7a4a" stroke-width="1.2"/><path d="M58.4,55 L50,62 M58.4,55 L67,62" stroke="#f0d060" stroke-width="2.5" opacity="0.6"/>
<path d="M49.3,24.9 Q52,32 56.5,35.5 L55.5,37.5 H52.8 V39.1 H64 V37.5 H61.3 L60.3,35.5 Q65,32 67.5,24.9 Q62.5,28 60,31 Q59.2,28.6 58.4,28.4 Q57.6,28.6 56.8,31 Q54.3,28 49.3,24.9Z" fill="#B8962A"/>
<circle cx="58.4" cy="29.6" r="1.5" fill="#f5f2e6"/>
<defs><clipPath id="nc"><circle cx="1221.9" cy="46.5" r="34.8"/></clipPath></defs>
<g clip-path="url(#nc)">
<rect x="1180" y="5" width="85" height="85" fill="#1E8FD5"/>
<path d="M1180,5 H1265 V30 L1253.1,32 Q1246,41 1241.4,42.7 Q1234,50 1231.3,52.3 L1237.3,54.3 Q1230,55.5 1228.2,56.9 Q1222,60 1215,60.9 L1210.9,59.4 Q1216,57.5 1219.1,55.7 Q1212,55.5 1208.9,53.8 Q1203,49.5 1198.8,45.7 Q1193,40.5 1188.1,37.4 L1180,36Z" fill="#fff"/>
<path d="M1180,5 H1265 L1249,24.9 Q1243,29 1239.4,34.5 Q1235,44 1231.3,48.8 Q1227,52.8 1223.1,52.8 Q1219,52.5 1216,49.8 Q1211,45.5 1206.9,40.6 Q1201,31 1193.9,25.4Z" fill="#13279B"/>
</g>
<text x="1221.9" y="34.4" text-anchor="middle" font-weight="bold" font-size="12.6" fill="#fff" stroke="#fff" stroke-width="0.5" textLength="28.5" lengthAdjust="spacingAndGlyphs">NOAA</text>
</svg></body></html>
